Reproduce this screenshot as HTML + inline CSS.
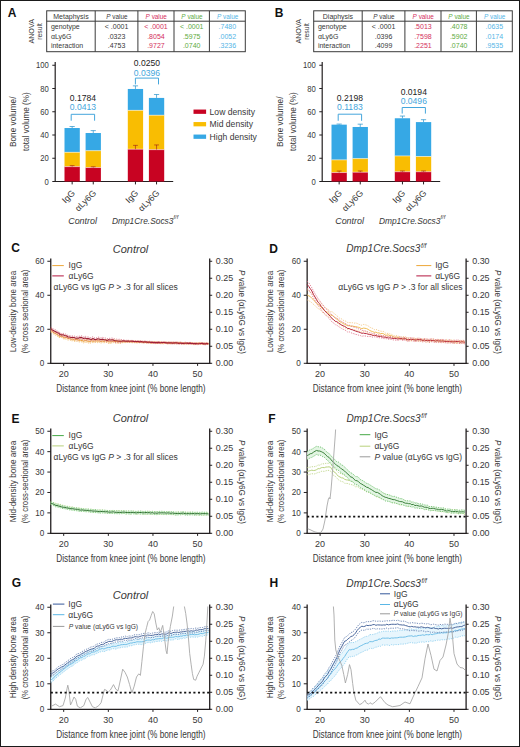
<!DOCTYPE html>
<html><head><meta charset="utf-8"><style>
html,body{margin:0;padding:0;background:#fff;width:520px;height:747px;overflow:hidden}
svg{display:block}
text{font-family:"Liberation Sans", sans-serif}
</style></head><body>
<svg width="520" height="747" viewBox="0 0 520 747">
<rect x="0.5" y="0.5" width="519" height="746" fill="none" stroke="#1a1a1a" stroke-width="1"/>
<text x="7.80" y="16.70" font-size="12" fill="#111" font-weight="bold" >A</text>
<text transform="translate(33.80,31.30) rotate(-90)" x="0" y="0" font-size="7" fill="#383838" text-anchor="middle" textLength="24.60" lengthAdjust="spacingAndGlyphs" >ANOVA</text>
<text transform="translate(41.60,31.40) rotate(-90)" x="0" y="0" font-size="6.5" fill="#383838" text-anchor="middle" textLength="16.80" lengthAdjust="spacingAndGlyphs" >result</text>
<rect x="46.70" y="10.8" width="198.60" height="40.90" fill="none" stroke="#3a3a3a" stroke-width="1"/>
<line x1="46.70" y1="21.20" x2="245.30" y2="21.20" stroke="#3a3a3a" stroke-width="1"/>
<line x1="95.20" y1="10.80" x2="95.20" y2="51.70" stroke="#3a3a3a" stroke-width="1"/>
<line x1="137.90" y1="10.80" x2="137.90" y2="51.70" stroke="#3a3a3a" stroke-width="1"/>
<line x1="174.00" y1="10.80" x2="174.00" y2="51.70" stroke="#3a3a3a" stroke-width="1"/>
<line x1="209.40" y1="10.80" x2="209.40" y2="51.70" stroke="#3a3a3a" stroke-width="1"/>
<text x="70.95" y="18.60" font-size="7" fill="#383838" text-anchor="middle" >Metaphysis</text>
<text x="116.85" y="18.60" font-size="7" fill="#383838" text-anchor="middle" textLength="21.30" lengthAdjust="spacingAndGlyphs" ><tspan font-style="italic">P</tspan> value</text>
<text x="156.25" y="18.60" font-size="7" fill="#d4305c" text-anchor="middle" textLength="21.30" lengthAdjust="spacingAndGlyphs" ><tspan font-style="italic">P</tspan> value</text>
<text x="192.00" y="18.60" font-size="7" fill="#5eab42" text-anchor="middle" textLength="21.30" lengthAdjust="spacingAndGlyphs" ><tspan font-style="italic">P</tspan> value</text>
<text x="227.65" y="18.60" font-size="7" fill="#55b5e6" text-anchor="middle" textLength="21.30" lengthAdjust="spacingAndGlyphs" ><tspan font-style="italic">P</tspan> value</text>
<text x="50.90" y="29.40" font-size="7" fill="#383838"  >genotype</text>
<text x="116.55" y="29.40" font-size="7" fill="#383838" text-anchor="middle" >&lt; .0001</text>
<text x="155.95" y="29.40" font-size="7" fill="#d4305c" text-anchor="middle" >&lt; .0001</text>
<text x="191.70" y="29.40" font-size="7" fill="#5eab42" text-anchor="middle" >&lt; .0001</text>
<text x="227.35" y="29.40" font-size="7" fill="#55b5e6" text-anchor="middle" >.7480</text>
<text x="50.90" y="38.60" font-size="7" fill="#383838"  >αLy6G</text>
<text x="116.55" y="38.60" font-size="7" fill="#383838" text-anchor="middle" >.0323</text>
<text x="155.95" y="38.60" font-size="7" fill="#d4305c" text-anchor="middle" >.8054</text>
<text x="191.70" y="38.60" font-size="7" fill="#5eab42" text-anchor="middle" >.5975</text>
<text x="227.35" y="38.60" font-size="7" fill="#55b5e6" text-anchor="middle" >.0052</text>
<text x="50.90" y="47.80" font-size="7" fill="#383838"  >interaction</text>
<text x="116.55" y="47.80" font-size="7" fill="#383838" text-anchor="middle" >.4753</text>
<text x="155.95" y="47.80" font-size="7" fill="#d4305c" text-anchor="middle" >.9727</text>
<text x="191.70" y="47.80" font-size="7" fill="#5eab42" text-anchor="middle" >.0740</text>
<text x="227.35" y="47.80" font-size="7" fill="#55b5e6" text-anchor="middle" >.3236</text>
<line x1="55.20" y1="62.00" x2="55.20" y2="182.10" stroke="#231f20" stroke-width="1.2"/>
<line x1="54.60" y1="181.50" x2="173.20" y2="181.50" stroke="#231f20" stroke-width="1.2"/>
<line x1="52.30" y1="181.50" x2="55.20" y2="181.50" stroke="#231f20" stroke-width="1"/>
<text x="48.80" y="184.60" font-size="9" fill="#383838" text-anchor="end" textLength="4.27" lengthAdjust="spacingAndGlyphs" >0</text>
<line x1="52.30" y1="158.25" x2="55.20" y2="158.25" stroke="#231f20" stroke-width="1"/>
<text x="48.80" y="161.35" font-size="9" fill="#383838" text-anchor="end" textLength="8.54" lengthAdjust="spacingAndGlyphs" >20</text>
<line x1="52.30" y1="135.00" x2="55.20" y2="135.00" stroke="#231f20" stroke-width="1"/>
<text x="48.80" y="138.10" font-size="9" fill="#383838" text-anchor="end" textLength="8.54" lengthAdjust="spacingAndGlyphs" >40</text>
<line x1="52.30" y1="111.75" x2="55.20" y2="111.75" stroke="#231f20" stroke-width="1"/>
<text x="48.80" y="114.85" font-size="9" fill="#383838" text-anchor="end" textLength="8.54" lengthAdjust="spacingAndGlyphs" >60</text>
<line x1="52.30" y1="88.50" x2="55.20" y2="88.50" stroke="#231f20" stroke-width="1"/>
<text x="48.80" y="91.60" font-size="9" fill="#383838" text-anchor="end" textLength="8.54" lengthAdjust="spacingAndGlyphs" >80</text>
<line x1="52.30" y1="65.25" x2="55.20" y2="65.25" stroke="#231f20" stroke-width="1"/>
<text x="48.80" y="68.35" font-size="9" fill="#383838" text-anchor="end" textLength="12.81" lengthAdjust="spacingAndGlyphs" >100</text>
<text transform="translate(15.90,121.80) rotate(-90)" x="0" y="0" font-size="9" fill="#383838" text-anchor="middle" textLength="50.50" lengthAdjust="spacingAndGlyphs" >Bone volume/</text>
<text transform="translate(29.00,121.60) rotate(-90)" x="0" y="0" font-size="9" fill="#383838" text-anchor="middle" textLength="58.60" lengthAdjust="spacingAndGlyphs" >total volume (%)</text>
<rect x="64.50" y="128.03" width="15.30" height="24.30" fill="#36a8e5"/>
<rect x="64.50" y="152.32" width="15.30" height="14.30" fill="#f9bd02"/>
<rect x="64.50" y="166.62" width="15.30" height="14.88" fill="#c80322"/>
<line x1="64.50" y1="152.32" x2="79.80" y2="152.32" stroke="#fff" stroke-width="0.5"/>
<line x1="64.50" y1="166.62" x2="79.80" y2="166.62" stroke="#fff" stroke-width="0.5"/>
<line x1="72.15" y1="128.03" x2="72.15" y2="126.53" stroke="#2290cc" stroke-width="0.7"/>
<line x1="69.55" y1="126.53" x2="74.75" y2="126.53" stroke="#2290cc" stroke-width="0.7"/>
<line x1="72.15" y1="166.62" x2="72.15" y2="165.62" stroke="#9a1a1a" stroke-width="0.6"/>
<line x1="69.75" y1="165.62" x2="74.55" y2="165.62" stroke="#9a1a1a" stroke-width="0.6"/>
<line x1="72.15" y1="181.50" x2="72.15" y2="184.40" stroke="#231f20" stroke-width="1"/>
<text transform="translate(75.65,193.70) rotate(-45)" x="0" y="0" font-size="8.8" fill="#383838" text-anchor="end" >IgG</text>
<rect x="85.60" y="133.02" width="15.30" height="17.67" fill="#36a8e5"/>
<rect x="85.60" y="150.69" width="15.30" height="16.86" fill="#f9bd02"/>
<rect x="85.60" y="167.55" width="15.30" height="13.95" fill="#c80322"/>
<line x1="85.60" y1="150.69" x2="100.90" y2="150.69" stroke="#fff" stroke-width="0.5"/>
<line x1="85.60" y1="167.55" x2="100.90" y2="167.55" stroke="#fff" stroke-width="0.5"/>
<line x1="93.25" y1="133.02" x2="93.25" y2="130.62" stroke="#2290cc" stroke-width="0.7"/>
<line x1="90.65" y1="130.62" x2="95.85" y2="130.62" stroke="#2290cc" stroke-width="0.7"/>
<line x1="93.25" y1="167.55" x2="93.25" y2="166.75" stroke="#9a1a1a" stroke-width="0.6"/>
<line x1="90.85" y1="166.75" x2="95.65" y2="166.75" stroke="#9a1a1a" stroke-width="0.6"/>
<line x1="93.25" y1="181.50" x2="93.25" y2="184.40" stroke="#231f20" stroke-width="1"/>
<text transform="translate(96.75,193.70) rotate(-45)" x="0" y="0" font-size="8.8" fill="#383838" text-anchor="end" >αLy6G</text>
<rect x="127.80" y="88.97" width="15.30" height="21.39" fill="#36a8e5"/>
<rect x="127.80" y="110.35" width="15.30" height="38.83" fill="#f9bd02"/>
<rect x="127.80" y="149.18" width="15.30" height="32.32" fill="#c80322"/>
<line x1="127.80" y1="110.35" x2="143.10" y2="110.35" stroke="#fff" stroke-width="0.5"/>
<line x1="127.80" y1="149.18" x2="143.10" y2="149.18" stroke="#fff" stroke-width="0.5"/>
<line x1="135.45" y1="88.97" x2="135.45" y2="85.87" stroke="#2290cc" stroke-width="0.7"/>
<line x1="132.85" y1="85.87" x2="138.05" y2="85.87" stroke="#2290cc" stroke-width="0.7"/>
<line x1="135.45" y1="149.18" x2="135.45" y2="145.38" stroke="#9a1a1a" stroke-width="0.6"/>
<line x1="133.05" y1="145.38" x2="137.85" y2="145.38" stroke="#9a1a1a" stroke-width="0.6"/>
<line x1="135.45" y1="181.50" x2="135.45" y2="184.40" stroke="#231f20" stroke-width="1"/>
<text transform="translate(138.95,193.70) rotate(-45)" x="0" y="0" font-size="8.8" fill="#383838" text-anchor="end" >IgG</text>
<rect x="148.90" y="97.92" width="15.30" height="17.32" fill="#36a8e5"/>
<rect x="148.90" y="115.24" width="15.30" height="34.41" fill="#f9bd02"/>
<rect x="148.90" y="149.65" width="15.30" height="31.85" fill="#c80322"/>
<line x1="148.90" y1="115.24" x2="164.20" y2="115.24" stroke="#fff" stroke-width="0.5"/>
<line x1="148.90" y1="149.65" x2="164.20" y2="149.65" stroke="#fff" stroke-width="0.5"/>
<line x1="156.55" y1="97.92" x2="156.55" y2="94.52" stroke="#2290cc" stroke-width="0.7"/>
<line x1="153.95" y1="94.52" x2="159.15" y2="94.52" stroke="#2290cc" stroke-width="0.7"/>
<line x1="156.55" y1="149.65" x2="156.55" y2="144.95" stroke="#9a1a1a" stroke-width="0.6"/>
<line x1="154.15" y1="144.95" x2="158.95" y2="144.95" stroke="#9a1a1a" stroke-width="0.6"/>
<line x1="156.55" y1="181.50" x2="156.55" y2="184.40" stroke="#231f20" stroke-width="1"/>
<text transform="translate(160.05,193.70) rotate(-45)" x="0" y="0" font-size="8.8" fill="#383838" text-anchor="end" >αLy6G</text>
<polyline points="71.20,120.70 71.20,114.30 94.60,114.30 94.60,120.70" fill="none" stroke="#45a6dc" stroke-width="1"/>
<text x="82.90" y="100.90" font-size="8.6" fill="#222" text-anchor="middle" >0.1784</text>
<text x="82.90" y="110.30" font-size="8.6" fill="#45a6dc" text-anchor="middle" >0.0413</text>
<polyline points="135.40,84.40 135.40,78.10 158.50,78.10 158.50,84.40" fill="none" stroke="#45a6dc" stroke-width="1"/>
<text x="146.95" y="66.40" font-size="8.6" fill="#222" text-anchor="middle" >0.0250</text>
<text x="146.95" y="76.30" font-size="8.6" fill="#45a6dc" text-anchor="middle" >0.0396</text>
<text x="82.60" y="223.50" font-size="9" fill="#383838" font-style="italic" text-anchor="middle" textLength="28.80" lengthAdjust="spacingAndGlyphs" >Control</text>
<text x="111.90" y="223.50" font-size="9" fill="#383838" font-style="italic" textLength="61.60" lengthAdjust="spacingAndGlyphs" >Dmp1Cre.Socs3</text>
<text x="173.60" y="219.00" font-size="6" fill="#383838" font-style="italic" textLength="4.60" lengthAdjust="spacingAndGlyphs" >f/f</text>
<text x="274.80" y="16.70" font-size="12" fill="#111" font-weight="bold" >B</text>
<text transform="translate(300.80,31.30) rotate(-90)" x="0" y="0" font-size="7" fill="#383838" text-anchor="middle" textLength="24.60" lengthAdjust="spacingAndGlyphs" >ANOVA</text>
<text transform="translate(308.60,31.40) rotate(-90)" x="0" y="0" font-size="6.5" fill="#383838" text-anchor="middle" textLength="16.80" lengthAdjust="spacingAndGlyphs" >result</text>
<rect x="313.70" y="10.8" width="198.60" height="40.90" fill="none" stroke="#3a3a3a" stroke-width="1"/>
<line x1="313.70" y1="21.20" x2="512.30" y2="21.20" stroke="#3a3a3a" stroke-width="1"/>
<line x1="362.20" y1="10.80" x2="362.20" y2="51.70" stroke="#3a3a3a" stroke-width="1"/>
<line x1="404.90" y1="10.80" x2="404.90" y2="51.70" stroke="#3a3a3a" stroke-width="1"/>
<line x1="441.00" y1="10.80" x2="441.00" y2="51.70" stroke="#3a3a3a" stroke-width="1"/>
<line x1="476.40" y1="10.80" x2="476.40" y2="51.70" stroke="#3a3a3a" stroke-width="1"/>
<text x="337.95" y="18.60" font-size="7" fill="#383838" text-anchor="middle" >Diaphysis</text>
<text x="383.85" y="18.60" font-size="7" fill="#383838" text-anchor="middle" textLength="21.30" lengthAdjust="spacingAndGlyphs" ><tspan font-style="italic">P</tspan> value</text>
<text x="423.25" y="18.60" font-size="7" fill="#d4305c" text-anchor="middle" textLength="21.30" lengthAdjust="spacingAndGlyphs" ><tspan font-style="italic">P</tspan> value</text>
<text x="459.00" y="18.60" font-size="7" fill="#5eab42" text-anchor="middle" textLength="21.30" lengthAdjust="spacingAndGlyphs" ><tspan font-style="italic">P</tspan> value</text>
<text x="494.65" y="18.60" font-size="7" fill="#55b5e6" text-anchor="middle" textLength="21.30" lengthAdjust="spacingAndGlyphs" ><tspan font-style="italic">P</tspan> value</text>
<text x="317.90" y="29.40" font-size="7" fill="#383838"  >genotype</text>
<text x="383.55" y="29.40" font-size="7" fill="#383838" text-anchor="middle" >&lt; .0001</text>
<text x="422.95" y="29.40" font-size="7" fill="#d4305c" text-anchor="middle" >.5013</text>
<text x="458.70" y="29.40" font-size="7" fill="#5eab42" text-anchor="middle" >.4078</text>
<text x="494.35" y="29.40" font-size="7" fill="#55b5e6" text-anchor="middle" >.0635</text>
<text x="317.90" y="38.60" font-size="7" fill="#383838"  >αLy6G</text>
<text x="383.55" y="38.60" font-size="7" fill="#383838" text-anchor="middle" >.0396</text>
<text x="422.95" y="38.60" font-size="7" fill="#d4305c" text-anchor="middle" >.7598</text>
<text x="458.70" y="38.60" font-size="7" fill="#5eab42" text-anchor="middle" >.5902</text>
<text x="494.35" y="38.60" font-size="7" fill="#55b5e6" text-anchor="middle" >.0174</text>
<text x="317.90" y="47.80" font-size="7" fill="#383838"  >interaction</text>
<text x="383.55" y="47.80" font-size="7" fill="#383838" text-anchor="middle" >.4099</text>
<text x="422.95" y="47.80" font-size="7" fill="#d4305c" text-anchor="middle" >.2251</text>
<text x="458.70" y="47.80" font-size="7" fill="#5eab42" text-anchor="middle" >.0740</text>
<text x="494.35" y="47.80" font-size="7" fill="#55b5e6" text-anchor="middle" >.9535</text>
<line x1="322.20" y1="62.00" x2="322.20" y2="182.10" stroke="#231f20" stroke-width="1.2"/>
<line x1="321.60" y1="181.50" x2="440.20" y2="181.50" stroke="#231f20" stroke-width="1.2"/>
<line x1="319.30" y1="181.50" x2="322.20" y2="181.50" stroke="#231f20" stroke-width="1"/>
<text x="315.80" y="184.60" font-size="9" fill="#383838" text-anchor="end" textLength="4.27" lengthAdjust="spacingAndGlyphs" >0</text>
<line x1="319.30" y1="158.25" x2="322.20" y2="158.25" stroke="#231f20" stroke-width="1"/>
<text x="315.80" y="161.35" font-size="9" fill="#383838" text-anchor="end" textLength="8.54" lengthAdjust="spacingAndGlyphs" >20</text>
<line x1="319.30" y1="135.00" x2="322.20" y2="135.00" stroke="#231f20" stroke-width="1"/>
<text x="315.80" y="138.10" font-size="9" fill="#383838" text-anchor="end" textLength="8.54" lengthAdjust="spacingAndGlyphs" >40</text>
<line x1="319.30" y1="111.75" x2="322.20" y2="111.75" stroke="#231f20" stroke-width="1"/>
<text x="315.80" y="114.85" font-size="9" fill="#383838" text-anchor="end" textLength="8.54" lengthAdjust="spacingAndGlyphs" >60</text>
<line x1="319.30" y1="88.50" x2="322.20" y2="88.50" stroke="#231f20" stroke-width="1"/>
<text x="315.80" y="91.60" font-size="9" fill="#383838" text-anchor="end" textLength="8.54" lengthAdjust="spacingAndGlyphs" >80</text>
<line x1="319.30" y1="65.25" x2="322.20" y2="65.25" stroke="#231f20" stroke-width="1"/>
<text x="315.80" y="68.35" font-size="9" fill="#383838" text-anchor="end" textLength="12.81" lengthAdjust="spacingAndGlyphs" >100</text>
<text transform="translate(282.90,121.80) rotate(-90)" x="0" y="0" font-size="9" fill="#383838" text-anchor="middle" textLength="50.50" lengthAdjust="spacingAndGlyphs" >Bone volume/</text>
<text transform="translate(296.00,121.60) rotate(-90)" x="0" y="0" font-size="9" fill="#383838" text-anchor="middle" textLength="58.60" lengthAdjust="spacingAndGlyphs" >total volume (%)</text>
<rect x="331.50" y="124.65" width="15.30" height="35.22" fill="#36a8e5"/>
<rect x="331.50" y="159.88" width="15.30" height="12.67" fill="#f9bd02"/>
<rect x="331.50" y="172.55" width="15.30" height="8.95" fill="#c80322"/>
<line x1="331.50" y1="159.88" x2="346.80" y2="159.88" stroke="#fff" stroke-width="0.5"/>
<line x1="331.50" y1="172.55" x2="346.80" y2="172.55" stroke="#fff" stroke-width="0.5"/>
<line x1="339.15" y1="124.65" x2="339.15" y2="124.05" stroke="#2290cc" stroke-width="0.7"/>
<line x1="336.55" y1="124.05" x2="341.75" y2="124.05" stroke="#2290cc" stroke-width="0.7"/>
<line x1="339.15" y1="172.55" x2="339.15" y2="171.05" stroke="#9a1a1a" stroke-width="0.6"/>
<line x1="336.75" y1="171.05" x2="341.55" y2="171.05" stroke="#9a1a1a" stroke-width="0.6"/>
<line x1="339.15" y1="181.50" x2="339.15" y2="184.40" stroke="#231f20" stroke-width="1"/>
<text transform="translate(342.65,193.70) rotate(-45)" x="0" y="0" font-size="8.8" fill="#383838" text-anchor="end" >IgG</text>
<rect x="352.60" y="126.98" width="15.30" height="31.62" fill="#36a8e5"/>
<rect x="352.60" y="158.60" width="15.30" height="13.60" fill="#f9bd02"/>
<rect x="352.60" y="172.20" width="15.30" height="9.30" fill="#c80322"/>
<line x1="352.60" y1="158.60" x2="367.90" y2="158.60" stroke="#fff" stroke-width="0.5"/>
<line x1="352.60" y1="172.20" x2="367.90" y2="172.20" stroke="#fff" stroke-width="0.5"/>
<line x1="360.25" y1="126.98" x2="360.25" y2="124.18" stroke="#2290cc" stroke-width="0.7"/>
<line x1="357.65" y1="124.18" x2="362.85" y2="124.18" stroke="#2290cc" stroke-width="0.7"/>
<line x1="360.25" y1="172.20" x2="360.25" y2="171.00" stroke="#9a1a1a" stroke-width="0.6"/>
<line x1="357.85" y1="171.00" x2="362.65" y2="171.00" stroke="#9a1a1a" stroke-width="0.6"/>
<line x1="360.25" y1="181.50" x2="360.25" y2="184.40" stroke="#231f20" stroke-width="1"/>
<text transform="translate(363.75,193.70) rotate(-45)" x="0" y="0" font-size="8.8" fill="#383838" text-anchor="end" >αLy6G</text>
<rect x="394.80" y="118.26" width="15.30" height="37.67" fill="#36a8e5"/>
<rect x="394.80" y="155.93" width="15.30" height="15.81" fill="#f9bd02"/>
<rect x="394.80" y="171.74" width="15.30" height="9.76" fill="#c80322"/>
<line x1="394.80" y1="155.93" x2="410.10" y2="155.93" stroke="#fff" stroke-width="0.5"/>
<line x1="394.80" y1="171.74" x2="410.10" y2="171.74" stroke="#fff" stroke-width="0.5"/>
<line x1="402.45" y1="118.26" x2="402.45" y2="116.06" stroke="#2290cc" stroke-width="0.7"/>
<line x1="399.85" y1="116.06" x2="405.05" y2="116.06" stroke="#2290cc" stroke-width="0.7"/>
<line x1="402.45" y1="171.74" x2="402.45" y2="170.94" stroke="#9a1a1a" stroke-width="0.6"/>
<line x1="400.05" y1="170.94" x2="404.85" y2="170.94" stroke="#9a1a1a" stroke-width="0.6"/>
<line x1="402.45" y1="181.50" x2="402.45" y2="184.40" stroke="#231f20" stroke-width="1"/>
<text transform="translate(405.95,193.70) rotate(-45)" x="0" y="0" font-size="8.8" fill="#383838" text-anchor="end" >IgG</text>
<rect x="415.90" y="122.10" width="15.30" height="34.41" fill="#36a8e5"/>
<rect x="415.90" y="156.51" width="15.30" height="15.23" fill="#f9bd02"/>
<rect x="415.90" y="171.74" width="15.30" height="9.76" fill="#c80322"/>
<line x1="415.90" y1="156.51" x2="431.20" y2="156.51" stroke="#fff" stroke-width="0.5"/>
<line x1="415.90" y1="171.74" x2="431.20" y2="171.74" stroke="#fff" stroke-width="0.5"/>
<line x1="423.55" y1="122.10" x2="423.55" y2="119.70" stroke="#2290cc" stroke-width="0.7"/>
<line x1="420.95" y1="119.70" x2="426.15" y2="119.70" stroke="#2290cc" stroke-width="0.7"/>
<line x1="423.55" y1="171.74" x2="423.55" y2="170.94" stroke="#9a1a1a" stroke-width="0.6"/>
<line x1="421.15" y1="170.94" x2="425.95" y2="170.94" stroke="#9a1a1a" stroke-width="0.6"/>
<line x1="423.55" y1="181.50" x2="423.55" y2="184.40" stroke="#231f20" stroke-width="1"/>
<text transform="translate(427.05,193.70) rotate(-45)" x="0" y="0" font-size="8.8" fill="#383838" text-anchor="end" >αLy6G</text>
<polyline points="338.20,120.80 338.20,114.20 361.60,114.20 361.60,120.80" fill="none" stroke="#45a6dc" stroke-width="1"/>
<text x="349.90" y="100.90" font-size="8.6" fill="#222" text-anchor="middle" >0.2198</text>
<text x="349.90" y="110.40" font-size="8.6" fill="#45a6dc" text-anchor="middle" >0.1183</text>
<polyline points="402.20,113.60 402.20,107.50 425.40,107.50 425.40,113.60" fill="none" stroke="#45a6dc" stroke-width="1"/>
<text x="413.80" y="95.40" font-size="8.6" fill="#222" text-anchor="middle" >0.0194</text>
<text x="413.80" y="104.40" font-size="8.6" fill="#45a6dc" text-anchor="middle" >0.0496</text>
<text x="349.60" y="223.50" font-size="9" fill="#383838" font-style="italic" text-anchor="middle" textLength="28.80" lengthAdjust="spacingAndGlyphs" >Control</text>
<text x="378.90" y="223.50" font-size="9" fill="#383838" font-style="italic" textLength="61.60" lengthAdjust="spacingAndGlyphs" >Dmp1Cre.Socs3</text>
<text x="440.60" y="219.00" font-size="6" fill="#383838" font-style="italic" textLength="4.60" lengthAdjust="spacingAndGlyphs" >f/f</text>
<rect x="193.50" y="109.55" width="12.60" height="4.30" fill="#c80322"/>
<text x="209.60" y="114.65" font-size="8.6" fill="#383838"  >Low density</text>
<rect x="193.50" y="122.05" width="12.60" height="4.30" fill="#f9bd02"/>
<text x="209.60" y="127.15" font-size="8.6" fill="#383838"  >Mid density</text>
<rect x="193.50" y="134.55" width="12.60" height="4.30" fill="#36a8e5"/>
<text x="209.60" y="139.65" font-size="8.6" fill="#383838"  >High density</text>
<text x="11.30" y="252.40" font-size="12" fill="#111" font-weight="bold" >C</text>
<line x1="50.75" y1="258.45" x2="50.75" y2="363.90" stroke="#231f20" stroke-width="1.3"/>
<line x1="209.70" y1="258.45" x2="209.70" y2="363.90" stroke="#231f20" stroke-width="1.3"/>
<line x1="50.15" y1="363.30" x2="210.30" y2="363.30" stroke="#231f20" stroke-width="1.3"/>
<line x1="47.35" y1="363.30" x2="50.75" y2="363.30" stroke="#231f20" stroke-width="1"/>
<text x="44.35" y="366.20" font-size="8.2" fill="#383838" text-anchor="end" >0</text>
<line x1="47.35" y1="329.28" x2="50.75" y2="329.28" stroke="#231f20" stroke-width="1"/>
<text x="44.35" y="332.18" font-size="8.2" fill="#383838" text-anchor="end" >20</text>
<line x1="47.35" y1="295.27" x2="50.75" y2="295.27" stroke="#231f20" stroke-width="1"/>
<text x="44.35" y="298.17" font-size="8.2" fill="#383838" text-anchor="end" >40</text>
<line x1="47.35" y1="261.25" x2="50.75" y2="261.25" stroke="#231f20" stroke-width="1"/>
<text x="44.35" y="264.15" font-size="8.2" fill="#383838" text-anchor="end" >60</text>
<line x1="209.70" y1="363.30" x2="212.20" y2="363.30" stroke="#231f20" stroke-width="1"/>
<text x="215.80" y="366.30" font-size="8.6" fill="#383838" textLength="17.40" lengthAdjust="spacingAndGlyphs" >0.00</text>
<line x1="209.70" y1="346.29" x2="212.20" y2="346.29" stroke="#231f20" stroke-width="1"/>
<text x="215.80" y="349.29" font-size="8.6" fill="#383838" textLength="17.40" lengthAdjust="spacingAndGlyphs" >0.05</text>
<line x1="209.70" y1="329.28" x2="212.20" y2="329.28" stroke="#231f20" stroke-width="1"/>
<text x="215.80" y="332.28" font-size="8.6" fill="#383838" textLength="17.40" lengthAdjust="spacingAndGlyphs" >0.10</text>
<line x1="209.70" y1="312.27" x2="212.20" y2="312.27" stroke="#231f20" stroke-width="1"/>
<text x="215.80" y="315.27" font-size="8.6" fill="#383838" textLength="17.40" lengthAdjust="spacingAndGlyphs" >0.15</text>
<line x1="209.70" y1="295.27" x2="212.20" y2="295.27" stroke="#231f20" stroke-width="1"/>
<text x="215.80" y="298.27" font-size="8.6" fill="#383838" textLength="17.40" lengthAdjust="spacingAndGlyphs" >0.20</text>
<line x1="209.70" y1="278.26" x2="212.20" y2="278.26" stroke="#231f20" stroke-width="1"/>
<text x="215.80" y="281.26" font-size="8.6" fill="#383838" textLength="17.40" lengthAdjust="spacingAndGlyphs" >0.25</text>
<line x1="209.70" y1="261.25" x2="212.20" y2="261.25" stroke="#231f20" stroke-width="1"/>
<text x="215.80" y="264.25" font-size="8.6" fill="#383838" textLength="17.40" lengthAdjust="spacingAndGlyphs" >0.30</text>
<line x1="63.70" y1="363.30" x2="63.70" y2="365.90" stroke="#231f20" stroke-width="1"/>
<text x="63.70" y="377.00" font-size="9" fill="#383838" text-anchor="middle" >20</text>
<line x1="108.33" y1="363.30" x2="108.33" y2="365.90" stroke="#231f20" stroke-width="1"/>
<text x="108.33" y="377.00" font-size="9" fill="#383838" text-anchor="middle" >30</text>
<line x1="152.96" y1="363.30" x2="152.96" y2="365.90" stroke="#231f20" stroke-width="1"/>
<text x="152.96" y="377.00" font-size="9" fill="#383838" text-anchor="middle" >40</text>
<line x1="197.59" y1="363.30" x2="197.59" y2="365.90" stroke="#231f20" stroke-width="1"/>
<text x="197.59" y="377.00" font-size="9" fill="#383838" text-anchor="middle" >50</text>
<text x="56.30" y="392.10" font-size="10.2" fill="#383838" textLength="149.30" lengthAdjust="spacingAndGlyphs" >Distance from knee joint (% bone length)</text>
<text transform="translate(16.40,311.47) rotate(-90)" x="0" y="0" font-size="9" fill="#383838" text-anchor="middle" textLength="81.50" lengthAdjust="spacingAndGlyphs" >Low-density bone area</text>
<text transform="translate(27.60,311.47) rotate(-90)" x="0" y="0" font-size="9" fill="#383838" text-anchor="middle" textLength="83.60" lengthAdjust="spacingAndGlyphs" >(% cross sectional area)</text>
<text transform="translate(238.90,312.07) rotate(90)" x="0" y="0" font-size="8.6" fill="#383838" text-anchor="middle" textLength="84.00" lengthAdjust="spacingAndGlyphs" ><tspan font-style="italic">P</tspan> value (αLy6G vs IgG)</text>
<text x="130.50" y="252.60" font-size="11" fill="#383838" font-style="italic" text-anchor="middle" textLength="35.40" lengthAdjust="spacingAndGlyphs" >Control</text>
<polygon points="50.76,328.63 52.32,330.00 53.88,331.15 55.44,331.81 57.01,333.05 58.57,334.44 60.13,334.83 61.69,334.78 63.25,335.87 64.82,336.09 66.38,335.68 67.94,337.17 69.50,337.10 71.06,337.78 72.63,337.52 74.19,338.80 75.75,338.32 77.31,338.34 78.87,338.96 80.44,338.69 82.00,339.16 83.56,339.83 85.12,338.89 86.68,339.17 88.25,339.78 89.81,339.97 91.37,339.18 92.93,339.54 94.49,339.63 96.06,339.40 97.62,339.51 99.18,339.06 100.74,339.88 102.30,339.49 103.87,340.04 105.43,339.44 106.99,339.55 108.55,340.02 110.12,340.07 111.68,340.01 113.24,339.37 114.80,339.93 116.36,339.98 117.93,340.30 119.49,340.29 121.05,340.30 122.61,340.97 124.17,340.93 125.74,340.77 127.30,340.85 128.86,340.82 130.42,340.76 131.98,340.99 133.55,340.88 135.11,340.96 136.67,341.25 138.23,341.06 139.79,341.01 141.36,341.10 142.92,341.41 144.48,341.33 146.04,341.60 147.60,341.40 149.17,341.47 150.73,341.75 152.29,341.83 153.85,341.65 155.41,341.54 156.98,342.10 158.54,341.65 160.10,341.82 161.66,342.05 163.22,342.02 164.79,341.81 166.35,341.89 167.91,342.29 169.47,342.00 171.04,342.29 172.60,342.07 174.16,342.27 175.72,342.08 177.28,342.01 178.85,342.25 180.41,342.13 181.97,342.41 183.53,342.52 185.09,342.38 186.66,342.58 188.22,342.70 189.78,342.49 191.34,342.60 192.90,342.81 194.47,342.79 196.03,342.62 197.59,342.78 199.15,342.44 200.71,342.47 202.28,342.80 203.84,342.87 205.40,342.86 206.96,342.76 208.52,342.94 208.52,344.56 206.96,344.43 205.40,344.54 203.84,344.50 202.28,344.45 200.71,344.37 199.15,344.18 197.59,344.42 196.03,344.20 194.47,344.63 192.90,344.58 191.34,344.22 189.78,344.18 188.22,344.23 186.66,344.28 185.09,344.17 183.53,344.36 181.97,344.14 180.41,343.75 178.85,343.98 177.28,343.79 175.72,343.82 174.16,343.97 172.60,343.66 171.04,343.96 169.47,343.65 167.91,344.08 166.35,343.53 164.79,343.46 163.22,343.85 161.66,343.78 160.10,343.51 158.54,343.41 156.98,343.61 155.41,343.25 153.85,343.23 152.29,343.54 150.73,343.38 149.17,343.13 147.60,342.98 146.04,343.21 144.48,342.93 142.92,342.95 141.36,342.78 139.79,342.78 138.23,342.75 136.67,343.01 135.11,342.79 133.55,342.65 131.98,342.70 130.42,342.51 128.86,342.53 127.30,342.50 125.74,342.62 124.17,342.60 122.61,342.71 121.05,343.14 119.49,343.39 117.93,343.18 116.36,343.19 114.80,342.97 113.24,342.61 111.68,343.04 110.12,343.47 108.55,343.47 106.99,342.48 105.43,342.50 103.87,342.76 102.30,342.45 100.74,343.27 99.18,342.17 97.62,342.64 96.06,342.33 94.49,342.61 92.93,342.59 91.37,342.57 89.81,343.39 88.25,342.94 86.68,342.31 85.12,342.34 83.56,342.95 82.00,341.88 80.44,341.94 78.87,341.87 77.31,341.31 75.75,341.31 74.19,341.28 72.63,340.74 71.06,340.90 69.50,339.67 67.94,340.25 66.38,339.05 64.82,339.22 63.25,338.73 61.69,337.55 60.13,337.76 58.57,337.19 57.01,335.77 55.44,335.18 53.88,334.28 52.32,332.83 50.76,332.22" fill="#fdf0dc" stroke="none"/>
<polyline points="50.76,328.63 52.32,330.00 53.88,331.15 55.44,331.81 57.01,333.05 58.57,334.44 60.13,334.83 61.69,334.78 63.25,335.87 64.82,336.09 66.38,335.68 67.94,337.17 69.50,337.10 71.06,337.78 72.63,337.52 74.19,338.80 75.75,338.32 77.31,338.34 78.87,338.96 80.44,338.69 82.00,339.16 83.56,339.83 85.12,338.89 86.68,339.17 88.25,339.78 89.81,339.97 91.37,339.18 92.93,339.54 94.49,339.63 96.06,339.40 97.62,339.51 99.18,339.06 100.74,339.88 102.30,339.49 103.87,340.04 105.43,339.44 106.99,339.55 108.55,340.02 110.12,340.07 111.68,340.01 113.24,339.37 114.80,339.93 116.36,339.98 117.93,340.30 119.49,340.29 121.05,340.30 122.61,340.97 124.17,340.93 125.74,340.77 127.30,340.85 128.86,340.82 130.42,340.76 131.98,340.99 133.55,340.88 135.11,340.96 136.67,341.25 138.23,341.06 139.79,341.01 141.36,341.10 142.92,341.41 144.48,341.33 146.04,341.60 147.60,341.40 149.17,341.47 150.73,341.75 152.29,341.83 153.85,341.65 155.41,341.54 156.98,342.10 158.54,341.65 160.10,341.82 161.66,342.05 163.22,342.02 164.79,341.81 166.35,341.89 167.91,342.29 169.47,342.00 171.04,342.29 172.60,342.07 174.16,342.27 175.72,342.08 177.28,342.01 178.85,342.25 180.41,342.13 181.97,342.41 183.53,342.52 185.09,342.38 186.66,342.58 188.22,342.70 189.78,342.49 191.34,342.60 192.90,342.81 194.47,342.79 196.03,342.62 197.59,342.78 199.15,342.44 200.71,342.47 202.28,342.80 203.84,342.87 205.40,342.86 206.96,342.76 208.52,342.94" fill="none" stroke="#f2b968" stroke-width="0.8" stroke-linejoin="round" stroke-dasharray="1.3 1.1"/>
<polyline points="50.76,332.22 52.32,332.83 53.88,334.28 55.44,335.18 57.01,335.77 58.57,337.19 60.13,337.76 61.69,337.55 63.25,338.73 64.82,339.22 66.38,339.05 67.94,340.25 69.50,339.67 71.06,340.90 72.63,340.74 74.19,341.28 75.75,341.31 77.31,341.31 78.87,341.87 80.44,341.94 82.00,341.88 83.56,342.95 85.12,342.34 86.68,342.31 88.25,342.94 89.81,343.39 91.37,342.57 92.93,342.59 94.49,342.61 96.06,342.33 97.62,342.64 99.18,342.17 100.74,343.27 102.30,342.45 103.87,342.76 105.43,342.50 106.99,342.48 108.55,343.47 110.12,343.47 111.68,343.04 113.24,342.61 114.80,342.97 116.36,343.19 117.93,343.18 119.49,343.39 121.05,343.14 122.61,342.71 124.17,342.60 125.74,342.62 127.30,342.50 128.86,342.53 130.42,342.51 131.98,342.70 133.55,342.65 135.11,342.79 136.67,343.01 138.23,342.75 139.79,342.78 141.36,342.78 142.92,342.95 144.48,342.93 146.04,343.21 147.60,342.98 149.17,343.13 150.73,343.38 152.29,343.54 153.85,343.23 155.41,343.25 156.98,343.61 158.54,343.41 160.10,343.51 161.66,343.78 163.22,343.85 164.79,343.46 166.35,343.53 167.91,344.08 169.47,343.65 171.04,343.96 172.60,343.66 174.16,343.97 175.72,343.82 177.28,343.79 178.85,343.98 180.41,343.75 181.97,344.14 183.53,344.36 185.09,344.17 186.66,344.28 188.22,344.23 189.78,344.18 191.34,344.22 192.90,344.58 194.47,344.63 196.03,344.20 197.59,344.42 199.15,344.18 200.71,344.37 202.28,344.45 203.84,344.50 205.40,344.54 206.96,344.43 208.52,344.56" fill="none" stroke="#f2b968" stroke-width="0.8" stroke-linejoin="round" stroke-dasharray="1.3 1.1"/>
<polyline points="50.76,330.45 52.32,331.50 53.88,332.81 55.44,333.48 57.01,334.41 58.57,335.72 60.13,336.43 61.69,336.09 63.25,337.33 64.82,337.85 66.38,337.43 67.94,338.48 69.50,338.38 71.06,339.14 72.63,339.24 74.19,340.05 75.75,339.69 77.31,339.64 78.87,340.27 80.44,340.23 82.00,340.50 83.56,341.30 85.12,340.56 86.68,340.84 88.25,341.26 89.81,341.67 91.37,340.75 92.93,341.26 94.49,341.01 96.06,340.86 97.62,341.09 99.18,340.86 100.74,341.48 102.30,341.00 103.87,341.43 105.43,340.84 106.99,340.91 108.55,341.84 110.12,341.83 111.68,341.77 113.24,340.92 114.80,341.58 116.36,341.39 117.93,341.82 119.49,341.61 121.05,341.79 122.61,341.76 124.17,341.68 125.74,341.72 127.30,341.60 128.86,341.74 130.42,341.66 131.98,341.74 133.55,341.72 135.11,341.92 136.67,342.21 138.23,341.93 139.79,341.93 141.36,342.00 142.92,342.21 144.48,342.19 146.04,342.48 147.60,342.23 149.17,342.40 150.73,342.58 152.29,342.74 153.85,342.40 155.41,342.37 156.98,342.84 158.54,342.53 160.10,342.76 161.66,342.92 163.22,342.88 164.79,342.69 166.35,342.68 167.91,343.11 169.47,342.87 171.04,343.18 172.60,342.89 174.16,343.12 175.72,342.89 177.28,342.88 178.85,343.14 180.41,342.94 181.97,343.30 183.53,343.45 185.09,343.24 186.66,343.54 188.22,343.50 189.78,343.44 191.34,343.37 192.90,343.63 194.47,343.72 196.03,343.36 197.59,343.66 199.15,343.37 200.71,343.43 202.28,343.70 203.84,343.68 205.40,343.68 206.96,343.64 208.52,343.69" fill="none" stroke="#e89a30" stroke-width="1.0" stroke-linejoin="round"/>
<polyline points="50.76,326.87 52.32,328.47 53.88,329.15 55.44,329.71 57.01,331.15 58.57,331.31 60.13,333.27 61.69,333.50 63.25,333.35 64.82,333.89 66.38,334.38 67.94,335.41 69.50,335.50 71.06,336.21 72.63,335.94 74.19,336.01 75.75,336.72 77.31,336.31 78.87,336.30 80.44,336.03 82.00,335.86 83.56,336.94 85.12,336.11 86.68,337.11 88.25,336.85 89.81,337.73 91.37,337.61 92.93,336.66 94.49,337.79 96.06,338.20 97.62,336.99 99.18,337.28 100.74,338.03 102.30,337.31 103.87,337.94 105.43,338.05 106.99,338.94 108.55,338.10 110.12,338.49 111.68,338.08 113.24,338.32 114.80,338.98 116.36,339.16 117.93,339.42 119.49,339.29 121.05,339.56 122.61,339.96 124.17,339.95 125.74,340.44 127.30,340.12 128.86,340.38 130.42,340.48 131.98,340.35 133.55,340.60 135.11,340.67 136.67,340.60 138.23,340.56 139.79,340.93 141.36,340.66 142.92,341.34 144.48,341.03 146.04,341.10 147.60,341.39 149.17,341.23 150.73,341.42 152.29,341.47 153.85,341.77 155.41,341.74 156.98,341.77 158.54,341.58 160.10,341.86 161.66,341.71 163.22,341.52 164.79,341.73 166.35,342.07 167.91,341.95 169.47,342.04 171.04,342.05 172.60,342.24 174.16,341.96 175.72,342.08 177.28,342.16 178.85,342.42 180.41,342.15 181.97,342.62 183.53,342.58 185.09,342.29 186.66,342.33 188.22,342.67 189.78,342.37 191.34,342.51 192.90,342.58 194.47,342.80 196.03,342.81 197.59,342.98 199.15,342.82 200.71,342.68 202.28,342.51 203.84,342.89 205.40,343.04 206.96,342.63 208.52,342.98" fill="none" stroke="#d8687c" stroke-width="0.8" stroke-linejoin="round" stroke-dasharray="1.3 1.1"/>
<polyline points="50.76,330.20 52.32,331.31 53.88,332.37 55.44,333.04 57.01,333.90 58.57,334.69 60.13,335.95 61.69,336.35 63.25,336.56 64.82,336.96 66.38,337.39 67.94,338.28 69.50,338.37 71.06,339.25 72.63,338.68 74.19,339.11 75.75,339.49 77.31,339.89 78.87,339.73 80.44,338.86 82.00,339.34 83.56,340.17 85.12,339.68 86.68,340.30 88.25,339.72 89.81,340.76 91.37,340.83 92.93,340.00 94.49,340.80 96.06,340.74 97.62,340.22 99.18,340.58 100.74,341.33 102.30,340.52 103.87,340.99 105.43,340.96 106.99,342.06 108.55,341.43 110.12,341.29 111.68,341.47 113.24,341.35 114.80,342.45 116.36,342.23 117.93,342.40 119.49,342.36 121.05,342.88 122.61,341.78 124.17,341.62 125.74,342.05 127.30,341.90 128.86,342.07 130.42,342.18 131.98,341.90 133.55,342.17 135.11,342.46 136.67,342.37 138.23,342.28 139.79,342.66 141.36,342.33 142.92,342.90 144.48,342.66 146.04,342.59 147.60,343.18 149.17,342.95 150.73,343.22 152.29,343.19 153.85,343.51 155.41,343.57 156.98,343.53 158.54,343.10 160.10,343.68 161.66,343.46 163.22,343.40 164.79,343.46 166.35,343.60 167.91,343.68 169.47,343.64 171.04,343.77 172.60,343.97 174.16,343.70 175.72,343.85 177.28,343.84 178.85,344.21 180.41,343.84 181.97,344.28 183.53,344.17 185.09,344.01 186.66,343.91 188.22,344.19 189.78,343.97 191.34,344.33 192.90,344.37 194.47,344.50 196.03,344.53 197.59,344.65 199.15,344.51 200.71,344.39 202.28,344.26 203.84,344.72 205.40,344.75 206.96,344.30 208.52,344.66" fill="none" stroke="#d8687c" stroke-width="0.8" stroke-linejoin="round" stroke-dasharray="1.3 1.1"/>
<polyline points="50.76,328.63 52.32,329.91 53.88,330.86 55.44,331.51 57.01,332.57 58.57,333.00 60.13,334.71 61.69,334.83 63.25,334.79 64.82,335.57 66.38,335.70 67.94,337.03 69.50,336.95 71.06,337.55 72.63,337.43 74.19,337.48 75.75,338.23 77.31,338.07 78.87,338.08 80.44,337.40 82.00,337.68 83.56,338.54 85.12,337.91 86.68,338.83 88.25,338.40 89.81,339.12 91.37,339.40 92.93,338.48 94.49,339.39 96.06,339.50 97.62,338.71 99.18,338.97 100.74,339.79 102.30,339.12 103.87,339.75 105.43,339.72 106.99,340.41 108.55,339.65 110.12,340.02 111.68,339.77 113.24,339.92 114.80,340.70 116.36,340.70 117.93,341.01 119.49,341.10 121.05,341.27 122.61,340.92 124.17,340.84 125.74,341.20 127.30,340.95 128.86,341.18 130.42,341.27 131.98,341.11 133.55,341.35 135.11,341.52 136.67,341.52 138.23,341.50 139.79,341.89 141.36,341.53 142.92,342.07 144.48,341.81 146.04,341.85 147.60,342.32 149.17,342.04 150.73,342.32 152.29,342.31 153.85,342.64 155.41,342.67 156.98,342.65 158.54,342.33 160.10,342.74 161.66,342.52 163.22,342.49 164.79,342.53 166.35,342.86 167.91,342.90 169.47,342.87 171.04,342.80 172.60,343.17 174.16,342.91 175.72,342.93 177.28,342.93 178.85,343.36 180.41,342.97 181.97,343.41 183.53,343.32 185.09,343.23 186.66,343.12 188.22,343.43 189.78,343.19 191.34,343.41 192.90,343.55 194.47,343.59 196.03,343.69 197.59,343.77 199.15,343.76 200.71,343.53 202.28,343.40 203.84,343.82 205.40,343.90 206.96,343.48 208.52,343.71" fill="none" stroke="#a01f35" stroke-width="1.15" stroke-linejoin="round"/>
<line x1="52.30" y1="265.60" x2="63.80" y2="265.60" stroke="#eda637" stroke-width="1.0"/>
<line x1="52.30" y1="275.90" x2="63.80" y2="275.90" stroke="#b3163f" stroke-width="1.0"/>
<text x="68.60" y="268.40" font-size="8.5" fill="#383838"  >IgG</text>
<text x="68.60" y="278.70" font-size="8.5" fill="#383838"  >αLy6G</text>
<text x="53.60" y="289.80" font-size="8.5" fill="#383838" textLength="124.30" lengthAdjust="spacingAndGlyphs" >αLy6G vs IgG <tspan font-style="italic">P</tspan> &gt; .3 for all slices</text>
<text x="269.30" y="252.60" font-size="12" fill="#111" font-weight="bold" >D</text>
<line x1="307.15" y1="258.45" x2="307.15" y2="363.90" stroke="#231f20" stroke-width="1.3"/>
<line x1="466.10" y1="258.45" x2="466.10" y2="363.90" stroke="#231f20" stroke-width="1.3"/>
<line x1="306.55" y1="363.30" x2="466.70" y2="363.30" stroke="#231f20" stroke-width="1.3"/>
<line x1="303.75" y1="363.30" x2="307.15" y2="363.30" stroke="#231f20" stroke-width="1"/>
<text x="300.75" y="366.20" font-size="8.2" fill="#383838" text-anchor="end" >0</text>
<line x1="303.75" y1="329.28" x2="307.15" y2="329.28" stroke="#231f20" stroke-width="1"/>
<text x="300.75" y="332.18" font-size="8.2" fill="#383838" text-anchor="end" >20</text>
<line x1="303.75" y1="295.27" x2="307.15" y2="295.27" stroke="#231f20" stroke-width="1"/>
<text x="300.75" y="298.17" font-size="8.2" fill="#383838" text-anchor="end" >40</text>
<line x1="303.75" y1="261.25" x2="307.15" y2="261.25" stroke="#231f20" stroke-width="1"/>
<text x="300.75" y="264.15" font-size="8.2" fill="#383838" text-anchor="end" >60</text>
<line x1="466.10" y1="363.30" x2="468.60" y2="363.30" stroke="#231f20" stroke-width="1"/>
<text x="472.20" y="366.30" font-size="8.6" fill="#383838" textLength="17.40" lengthAdjust="spacingAndGlyphs" >0.00</text>
<line x1="466.10" y1="346.29" x2="468.60" y2="346.29" stroke="#231f20" stroke-width="1"/>
<text x="472.20" y="349.29" font-size="8.6" fill="#383838" textLength="17.40" lengthAdjust="spacingAndGlyphs" >0.05</text>
<line x1="466.10" y1="329.28" x2="468.60" y2="329.28" stroke="#231f20" stroke-width="1"/>
<text x="472.20" y="332.28" font-size="8.6" fill="#383838" textLength="17.40" lengthAdjust="spacingAndGlyphs" >0.10</text>
<line x1="466.10" y1="312.27" x2="468.60" y2="312.27" stroke="#231f20" stroke-width="1"/>
<text x="472.20" y="315.27" font-size="8.6" fill="#383838" textLength="17.40" lengthAdjust="spacingAndGlyphs" >0.15</text>
<line x1="466.10" y1="295.27" x2="468.60" y2="295.27" stroke="#231f20" stroke-width="1"/>
<text x="472.20" y="298.27" font-size="8.6" fill="#383838" textLength="17.40" lengthAdjust="spacingAndGlyphs" >0.20</text>
<line x1="466.10" y1="278.26" x2="468.60" y2="278.26" stroke="#231f20" stroke-width="1"/>
<text x="472.20" y="281.26" font-size="8.6" fill="#383838" textLength="17.40" lengthAdjust="spacingAndGlyphs" >0.25</text>
<line x1="466.10" y1="261.25" x2="468.60" y2="261.25" stroke="#231f20" stroke-width="1"/>
<text x="472.20" y="264.25" font-size="8.6" fill="#383838" textLength="17.40" lengthAdjust="spacingAndGlyphs" >0.30</text>
<line x1="320.10" y1="363.30" x2="320.10" y2="365.90" stroke="#231f20" stroke-width="1"/>
<text x="320.10" y="377.00" font-size="9" fill="#383838" text-anchor="middle" >20</text>
<line x1="364.73" y1="363.30" x2="364.73" y2="365.90" stroke="#231f20" stroke-width="1"/>
<text x="364.73" y="377.00" font-size="9" fill="#383838" text-anchor="middle" >30</text>
<line x1="409.36" y1="363.30" x2="409.36" y2="365.90" stroke="#231f20" stroke-width="1"/>
<text x="409.36" y="377.00" font-size="9" fill="#383838" text-anchor="middle" >40</text>
<line x1="453.99" y1="363.30" x2="453.99" y2="365.90" stroke="#231f20" stroke-width="1"/>
<text x="453.99" y="377.00" font-size="9" fill="#383838" text-anchor="middle" >50</text>
<text x="312.70" y="392.10" font-size="10.2" fill="#383838" textLength="149.30" lengthAdjust="spacingAndGlyphs" >Distance from knee joint (% bone length)</text>
<text transform="translate(272.80,311.47) rotate(-90)" x="0" y="0" font-size="9" fill="#383838" text-anchor="middle" textLength="81.50" lengthAdjust="spacingAndGlyphs" >Low-density bone area</text>
<text transform="translate(284.00,311.47) rotate(-90)" x="0" y="0" font-size="9" fill="#383838" text-anchor="middle" textLength="83.60" lengthAdjust="spacingAndGlyphs" >(% cross sectional area)</text>
<text transform="translate(495.30,312.07) rotate(90)" x="0" y="0" font-size="8.6" fill="#383838" text-anchor="middle" textLength="84.00" lengthAdjust="spacingAndGlyphs" ><tspan font-style="italic">P</tspan> value (αLy6G vs IgG)</text>
<text x="346.30" y="252.40" font-size="11" fill="#383838" font-style="italic" textLength="74.10" lengthAdjust="spacingAndGlyphs" >Dmp1Cre.Socs3</text>
<text x="421.00" y="247.90" font-size="6.3" fill="#383838" font-style="italic" textLength="5.40" lengthAdjust="spacingAndGlyphs" >f/f</text>
<polyline points="307.16,289.58 308.72,291.06 310.28,291.58 311.84,293.74 313.41,295.44 314.97,296.94 316.53,299.24 318.09,300.53 319.65,301.93 321.22,303.42 322.78,305.42 324.34,306.86 325.90,308.33 327.46,308.84 329.03,310.18 330.59,311.72 332.15,311.76 333.71,313.16 335.27,314.34 336.84,315.73 338.40,317.07 339.96,318.58 341.52,318.90 343.08,320.25 344.65,320.67 346.21,321.47 347.77,322.57 349.33,322.54 350.89,322.78 352.46,322.73 354.02,323.21 355.58,322.89 357.14,323.39 358.70,324.19 360.27,324.89 361.83,325.22 363.39,324.48 364.95,324.68 366.52,325.10 368.08,325.85 369.64,327.06 371.20,327.94 372.76,328.43 374.33,329.64 375.89,329.24 377.45,330.20 379.01,330.56 380.57,331.18 382.14,331.37 383.70,331.55 385.26,333.00 386.82,333.49 388.38,333.26 389.95,334.05 391.51,334.30 393.07,335.34 394.63,335.78 396.19,335.46 397.76,336.05 399.32,336.51 400.88,337.10 402.44,336.91 404.00,336.59 405.57,336.77 407.13,337.83 408.69,337.72 410.25,338.02 411.81,338.59 413.38,337.54 414.94,338.37 416.50,338.40 418.06,338.40 419.62,338.92 421.19,338.59 422.75,339.31 424.31,338.74 425.87,339.12 427.44,339.33 429.00,339.38 430.56,339.29 432.12,338.92 433.68,338.97 435.25,339.61 436.81,338.99 438.37,339.88 439.93,339.50 441.49,339.38 443.06,339.75 444.62,340.41 446.18,339.50 447.74,340.42 449.30,340.01 450.87,339.96 452.43,340.11 453.99,340.24 455.55,340.67 457.11,340.91 458.68,340.37 460.24,340.39 461.80,340.34 463.36,340.43 464.92,340.73" fill="none" stroke="#f2c27a" stroke-width="0.8" stroke-linejoin="round" stroke-dasharray="1.3 1.1"/>
<polyline points="307.16,299.83 308.72,300.61 310.28,301.58 311.84,302.76 313.41,304.25 314.97,305.56 316.53,307.23 318.09,308.49 319.65,309.48 321.22,310.63 322.78,312.84 324.34,313.56 325.90,315.02 327.46,315.37 329.03,316.67 330.59,318.55 332.15,318.71 333.71,319.67 335.27,321.47 336.84,322.61 338.40,323.93 339.96,325.16 341.52,325.50 343.08,326.90 344.65,327.64 346.21,328.20 347.77,329.36 349.33,329.27 350.89,329.32 352.46,329.28 354.02,329.81 355.58,329.91 357.14,330.64 358.70,330.81 360.27,331.60 361.83,332.21 363.39,331.53 364.95,331.88 366.52,331.84 368.08,332.96 369.64,334.03 371.20,334.35 372.76,334.85 374.33,335.41 375.89,334.75 377.45,335.48 379.01,335.14 380.57,335.72 382.14,335.66 383.70,335.81 385.26,336.96 386.82,337.04 388.38,336.56 389.95,337.22 391.51,336.97 393.07,337.81 394.63,338.35 396.19,338.19 397.76,338.81 399.32,339.50 400.88,339.55 402.44,339.51 404.00,339.28 405.57,339.87 407.13,340.81 408.69,340.91 410.25,340.75 411.81,340.99 413.38,340.45 414.94,341.15 416.50,341.02 418.06,341.15 419.62,341.67 421.19,340.97 422.75,341.75 424.31,341.34 425.87,342.22 427.44,342.06 429.00,342.40 430.56,342.06 432.12,341.36 433.68,341.73 435.25,342.25 436.81,341.90 438.37,342.60 439.93,342.61 441.49,341.86 443.06,342.57 444.62,342.79 446.18,341.90 447.74,343.10 449.30,342.89 450.87,342.52 452.43,342.83 453.99,343.26 455.55,343.35 457.11,343.39 458.68,343.03 460.24,343.40 461.80,343.14 463.36,343.27 464.92,343.19" fill="none" stroke="#f2c27a" stroke-width="0.8" stroke-linejoin="round" stroke-dasharray="1.3 1.1"/>
<polyline points="307.16,294.81 308.72,295.82 310.28,296.57 311.84,298.35 313.41,299.85 314.97,301.32 316.53,303.24 318.09,304.40 319.65,305.76 321.22,307.00 322.78,309.08 324.34,310.24 325.90,311.67 327.46,312.13 329.03,313.44 330.59,315.23 332.15,315.37 333.71,316.48 335.27,317.90 336.84,319.04 338.40,320.61 339.96,321.85 341.52,322.34 343.08,323.61 344.65,324.26 346.21,325.00 347.77,325.77 349.33,325.73 350.89,326.17 352.46,325.99 354.02,326.48 355.58,326.52 357.14,327.02 358.70,327.35 360.27,328.05 361.83,328.68 363.39,328.11 364.95,328.27 366.52,328.60 368.08,329.37 369.64,330.41 371.20,331.14 372.76,331.67 374.33,332.35 375.89,332.10 377.45,332.93 379.01,332.85 380.57,333.64 382.14,333.37 383.70,333.80 385.26,335.01 386.82,335.19 388.38,334.87 389.95,335.72 391.51,335.60 393.07,336.55 394.63,337.24 396.19,337.03 397.76,337.23 399.32,338.01 400.88,338.41 402.44,338.37 404.00,337.94 405.57,338.36 407.13,339.23 408.69,339.32 410.25,339.62 411.81,339.77 413.38,339.12 414.94,339.86 416.50,339.58 418.06,339.80 419.62,340.17 421.19,339.72 422.75,340.44 424.31,340.03 425.87,340.67 427.44,340.47 429.00,340.79 430.56,340.84 432.12,340.22 433.68,340.45 435.25,341.01 436.81,340.48 438.37,341.23 439.93,341.10 441.49,340.69 443.06,340.97 444.62,341.58 446.18,340.73 447.74,341.58 449.30,341.60 450.87,341.13 452.43,341.64 453.99,341.74 455.55,342.01 457.11,342.04 458.68,341.58 460.24,341.97 461.80,341.65 463.36,341.94 464.92,341.90" fill="none" stroke="#efbc55" stroke-width="1.0" stroke-linejoin="round"/>
<polyline points="307.16,281.30 308.72,282.75 310.28,285.14 311.84,287.80 313.41,290.88 314.97,293.68 316.53,296.12 318.09,298.71 319.65,300.49 321.22,302.97 322.78,304.63 324.34,307.00 325.90,308.62 327.46,310.28 329.03,311.61 330.59,313.09 332.15,315.18 333.71,316.64 335.27,317.98 336.84,318.03 338.40,319.30 339.96,320.48 341.52,321.45 343.08,322.30 344.65,323.15 346.21,323.98 347.77,325.25 349.33,325.28 350.89,325.98 352.46,326.63 354.02,327.22 355.58,327.55 357.14,328.11 358.70,328.95 360.27,329.44 361.83,330.31 363.39,330.59 364.95,330.78 366.52,331.39 368.08,331.96 369.64,332.72 371.20,332.91 372.76,333.63 374.33,333.36 375.89,334.35 377.45,334.87 379.01,334.98 380.57,334.98 382.14,335.81 383.70,335.63 385.26,336.06 386.82,336.01 388.38,336.57 389.95,336.36 391.51,336.65 393.07,337.16 394.63,337.38 396.19,337.14 397.76,337.47 399.32,336.99 400.88,336.87 402.44,337.66 404.00,337.57 405.57,337.25 407.13,338.35 408.69,338.25 410.25,337.73 411.81,337.92 413.38,338.13 414.94,338.92 416.50,338.71 418.06,338.08 419.62,338.18 421.19,338.69 422.75,339.30 424.31,338.61 425.87,339.10 427.44,338.95 429.00,339.61 430.56,338.55 432.12,339.29 433.68,339.20 435.25,339.52 436.81,339.48 438.37,339.48 439.93,339.71 441.49,339.66 443.06,339.35 444.62,340.11 446.18,340.02 447.74,340.41 449.30,339.63 450.87,340.45 452.43,340.50 453.99,340.37 455.55,340.08 457.11,340.17 458.68,340.02 460.24,340.93 461.80,340.48 463.36,340.40 464.92,340.98" fill="none" stroke="#de6a80" stroke-width="0.8" stroke-linejoin="round" stroke-dasharray="1.3 1.1"/>
<polyline points="307.16,288.04 308.72,289.88 310.28,292.30 311.84,294.40 313.41,297.71 314.97,300.44 316.53,303.20 318.09,305.69 319.65,307.34 321.22,309.91 322.78,311.40 324.34,313.71 325.90,315.24 327.46,316.87 329.03,318.30 330.59,320.08 332.15,322.20 333.71,323.07 335.27,324.59 336.84,325.17 338.40,326.38 339.96,327.36 341.52,328.41 343.08,329.28 344.65,329.85 346.21,330.79 347.77,332.18 349.33,331.91 350.89,332.66 352.46,333.40 354.02,333.76 355.58,334.37 357.14,334.62 358.70,335.23 360.27,335.52 361.83,336.35 363.39,335.95 364.95,335.99 366.52,336.14 368.08,336.60 369.64,336.52 371.20,336.52 372.76,337.20 374.33,336.81 375.89,336.94 377.45,337.45 379.01,337.81 380.57,337.50 382.14,338.32 383.70,338.58 385.26,338.67 386.82,338.76 388.38,339.25 389.95,339.17 391.51,339.52 393.07,339.84 394.63,340.09 396.19,340.15 397.76,340.30 399.32,339.93 400.88,339.56 402.44,340.35 404.00,340.26 405.57,340.02 407.13,341.25 408.69,341.21 410.25,340.46 411.81,340.62 413.38,341.15 414.94,341.70 416.50,341.17 418.06,340.87 419.62,341.23 421.19,340.97 422.75,341.95 424.31,341.32 425.87,342.08 427.44,341.47 429.00,342.36 430.56,341.69 432.12,341.70 433.68,342.01 435.25,342.61 436.81,342.17 438.37,342.20 439.93,342.51 441.49,342.62 443.06,342.14 444.62,342.56 446.18,342.91 447.74,343.06 449.30,342.51 450.87,342.99 452.43,343.00 453.99,343.55 455.55,342.67 457.11,343.07 458.68,343.18 460.24,343.65 461.80,343.30 463.36,343.41 464.92,343.88" fill="none" stroke="#de6a80" stroke-width="0.8" stroke-linejoin="round" stroke-dasharray="1.3 1.1"/>
<polyline points="307.16,284.46 308.72,286.34 310.28,288.65 311.84,290.96 313.41,294.31 314.97,296.94 316.53,299.72 318.09,302.30 319.65,303.79 321.22,306.42 322.78,308.03 324.34,310.29 325.90,311.99 327.46,313.63 329.03,314.99 330.59,316.72 332.15,318.70 333.71,319.80 335.27,321.31 336.84,321.67 338.40,322.83 339.96,323.93 341.52,324.92 343.08,325.80 344.65,326.38 346.21,327.33 347.77,328.54 349.33,328.52 350.89,329.48 352.46,329.79 354.02,330.46 355.58,331.06 357.14,331.58 358.70,331.98 360.27,332.60 361.83,333.30 363.39,333.09 364.95,333.52 366.52,333.60 368.08,334.18 369.64,334.59 371.20,334.64 372.76,335.50 374.33,335.17 375.89,335.64 377.45,336.15 379.01,336.40 380.57,336.39 382.14,336.98 383.70,337.09 385.26,337.21 386.82,337.59 388.38,338.02 389.95,337.81 391.51,338.23 393.07,338.39 394.63,338.59 396.19,338.57 397.76,339.03 399.32,338.57 400.88,338.38 402.44,339.07 404.00,338.86 405.57,338.76 407.13,339.78 408.69,339.80 410.25,339.22 411.81,339.27 413.38,339.56 414.94,340.13 416.50,339.96 418.06,339.58 419.62,339.64 421.19,339.81 422.75,340.51 424.31,339.93 425.87,340.50 427.44,340.23 429.00,340.91 430.56,340.14 432.12,340.59 433.68,340.53 435.25,341.11 436.81,340.75 438.37,340.85 439.93,340.90 441.49,341.20 443.06,340.88 444.62,341.33 446.18,341.44 447.74,341.63 449.30,341.16 450.87,341.81 452.43,341.75 453.99,341.97 455.55,341.43 457.11,341.56 458.68,341.62 460.24,342.18 461.80,341.82 463.36,341.96 464.92,342.27" fill="none" stroke="#b8283f" stroke-width="1.0" stroke-linejoin="round"/>
<line x1="416.30" y1="265.60" x2="431.30" y2="265.60" stroke="#eda637" stroke-width="1.0"/>
<line x1="416.30" y1="275.90" x2="431.30" y2="275.90" stroke="#b3163f" stroke-width="1.0"/>
<text x="435.20" y="268.40" font-size="8.5" fill="#383838"  >IgG</text>
<text x="435.20" y="278.70" font-size="8.5" fill="#383838"  >αLy6G</text>
<text x="462.60" y="289.80" font-size="8.5" fill="#383838" text-anchor="end" textLength="124.30" lengthAdjust="spacingAndGlyphs" >αLy6G vs IgG <tspan font-style="italic">P</tspan> &gt; .3 for all slices</text>
<text x="11.60" y="423.00" font-size="12" fill="#111" font-weight="bold" >E</text>
<line x1="50.75" y1="428.45" x2="50.75" y2="533.90" stroke="#231f20" stroke-width="1.3"/>
<line x1="209.70" y1="428.45" x2="209.70" y2="533.90" stroke="#231f20" stroke-width="1.3"/>
<line x1="50.15" y1="533.30" x2="210.30" y2="533.30" stroke="#231f20" stroke-width="1.3"/>
<line x1="47.35" y1="533.30" x2="50.75" y2="533.30" stroke="#231f20" stroke-width="1"/>
<text x="44.35" y="536.20" font-size="8.2" fill="#383838" text-anchor="end" >0</text>
<line x1="47.35" y1="512.89" x2="50.75" y2="512.89" stroke="#231f20" stroke-width="1"/>
<text x="44.35" y="515.79" font-size="8.2" fill="#383838" text-anchor="end" >10</text>
<line x1="47.35" y1="492.48" x2="50.75" y2="492.48" stroke="#231f20" stroke-width="1"/>
<text x="44.35" y="495.38" font-size="8.2" fill="#383838" text-anchor="end" >20</text>
<line x1="47.35" y1="472.07" x2="50.75" y2="472.07" stroke="#231f20" stroke-width="1"/>
<text x="44.35" y="474.97" font-size="8.2" fill="#383838" text-anchor="end" >30</text>
<line x1="47.35" y1="451.66" x2="50.75" y2="451.66" stroke="#231f20" stroke-width="1"/>
<text x="44.35" y="454.56" font-size="8.2" fill="#383838" text-anchor="end" >40</text>
<line x1="47.35" y1="431.25" x2="50.75" y2="431.25" stroke="#231f20" stroke-width="1"/>
<text x="44.35" y="434.15" font-size="8.2" fill="#383838" text-anchor="end" >50</text>
<line x1="209.70" y1="533.30" x2="212.20" y2="533.30" stroke="#231f20" stroke-width="1"/>
<text x="215.80" y="536.30" font-size="8.6" fill="#383838" textLength="17.40" lengthAdjust="spacingAndGlyphs" >0.00</text>
<line x1="209.70" y1="516.29" x2="212.20" y2="516.29" stroke="#231f20" stroke-width="1"/>
<text x="215.80" y="519.29" font-size="8.6" fill="#383838" textLength="17.40" lengthAdjust="spacingAndGlyphs" >0.05</text>
<line x1="209.70" y1="499.28" x2="212.20" y2="499.28" stroke="#231f20" stroke-width="1"/>
<text x="215.80" y="502.28" font-size="8.6" fill="#383838" textLength="17.40" lengthAdjust="spacingAndGlyphs" >0.10</text>
<line x1="209.70" y1="482.27" x2="212.20" y2="482.27" stroke="#231f20" stroke-width="1"/>
<text x="215.80" y="485.27" font-size="8.6" fill="#383838" textLength="17.40" lengthAdjust="spacingAndGlyphs" >0.15</text>
<line x1="209.70" y1="465.27" x2="212.20" y2="465.27" stroke="#231f20" stroke-width="1"/>
<text x="215.80" y="468.27" font-size="8.6" fill="#383838" textLength="17.40" lengthAdjust="spacingAndGlyphs" >0.20</text>
<line x1="209.70" y1="448.26" x2="212.20" y2="448.26" stroke="#231f20" stroke-width="1"/>
<text x="215.80" y="451.26" font-size="8.6" fill="#383838" textLength="17.40" lengthAdjust="spacingAndGlyphs" >0.25</text>
<line x1="209.70" y1="431.25" x2="212.20" y2="431.25" stroke="#231f20" stroke-width="1"/>
<text x="215.80" y="434.25" font-size="8.6" fill="#383838" textLength="17.40" lengthAdjust="spacingAndGlyphs" >0.30</text>
<line x1="63.70" y1="533.30" x2="63.70" y2="535.90" stroke="#231f20" stroke-width="1"/>
<text x="63.70" y="547.00" font-size="9" fill="#383838" text-anchor="middle" >20</text>
<line x1="108.33" y1="533.30" x2="108.33" y2="535.90" stroke="#231f20" stroke-width="1"/>
<text x="108.33" y="547.00" font-size="9" fill="#383838" text-anchor="middle" >30</text>
<line x1="152.96" y1="533.30" x2="152.96" y2="535.90" stroke="#231f20" stroke-width="1"/>
<text x="152.96" y="547.00" font-size="9" fill="#383838" text-anchor="middle" >40</text>
<line x1="197.59" y1="533.30" x2="197.59" y2="535.90" stroke="#231f20" stroke-width="1"/>
<text x="197.59" y="547.00" font-size="9" fill="#383838" text-anchor="middle" >50</text>
<text x="56.30" y="562.10" font-size="10.2" fill="#383838" textLength="149.30" lengthAdjust="spacingAndGlyphs" >Distance from knee joint (% bone length)</text>
<text transform="translate(16.40,481.47) rotate(-90)" x="0" y="0" font-size="9" fill="#383838" text-anchor="middle" textLength="81.50" lengthAdjust="spacingAndGlyphs" >Mid-density bone area</text>
<text transform="translate(27.60,481.47) rotate(-90)" x="0" y="0" font-size="9" fill="#383838" text-anchor="middle" textLength="83.60" lengthAdjust="spacingAndGlyphs" >(% cross-sectional area)</text>
<text transform="translate(238.90,482.07) rotate(90)" x="0" y="0" font-size="8.6" fill="#383838" text-anchor="middle" textLength="84.00" lengthAdjust="spacingAndGlyphs" ><tspan font-style="italic">P</tspan> value (αLy6G vs IgG)</text>
<text x="130.50" y="421.90" font-size="11" fill="#383838" font-style="italic" text-anchor="middle" textLength="35.40" lengthAdjust="spacingAndGlyphs" >Control</text>
<polyline points="50.76,502.00 52.32,502.08 53.88,502.72 55.44,503.16 57.01,503.84 58.57,503.95 60.13,504.24 61.69,505.05 63.25,505.31 64.82,505.93 66.38,506.28 67.94,506.25 69.50,506.46 71.06,507.12 72.63,506.90 74.19,507.73 75.75,507.86 77.31,508.10 78.87,507.79 80.44,508.29 82.00,508.50 83.56,508.76 85.12,509.24 86.68,509.30 88.25,509.08 89.81,509.55 91.37,509.20 92.93,509.77 94.49,509.96 96.06,509.64 97.62,510.25 99.18,509.81 100.74,510.16 102.30,510.06 103.87,510.21 105.43,510.47 106.99,510.68 108.55,510.62 110.12,510.43 111.68,510.80 113.24,510.43 114.80,510.85 116.36,510.53 117.93,510.47 119.49,510.63 121.05,510.90 122.61,510.85 124.17,510.92 125.74,511.31 127.30,511.13 128.86,510.95 130.42,511.34 131.98,511.12 133.55,511.17 135.11,511.48 136.67,511.55 138.23,511.34 139.79,511.38 141.36,511.19 142.92,511.49 144.48,511.71 146.04,511.68 147.60,511.35 149.17,511.27 150.73,511.54 152.29,511.71 153.85,511.62 155.41,511.63 156.98,511.94 158.54,511.74 160.10,511.76 161.66,511.90 163.22,512.07 164.79,512.08 166.35,511.88 167.91,511.61 169.47,512.17 171.04,511.97 172.60,512.06 174.16,512.42 175.72,512.24 177.28,512.06 178.85,511.92 180.41,512.22 181.97,511.94 183.53,512.16 185.09,512.07 186.66,512.10 188.22,512.44 189.78,512.10 191.34,512.06 192.90,512.41 194.47,512.29 196.03,512.35 197.59,512.69 199.15,512.52 200.71,512.38 202.28,512.69 203.84,512.78 205.40,512.29 206.96,512.40 208.52,512.83" fill="none" stroke="#b8d17c" stroke-width="0.8" stroke-linejoin="round" stroke-dasharray="1.3 1.1"/>
<polyline points="50.76,504.40 52.32,504.68 53.88,505.21 55.44,505.64 57.01,506.41 58.57,506.32 60.13,506.87 61.69,507.45 63.25,507.80 64.82,508.49 66.38,508.68 67.94,508.81 69.50,509.07 71.06,509.70 72.63,509.45 74.19,509.94 75.75,510.16 77.31,510.78 78.87,510.37 80.44,510.60 82.00,510.93 83.56,511.09 85.12,511.63 86.68,511.57 88.25,511.62 89.81,512.16 91.37,511.50 92.93,512.03 94.49,512.25 96.06,512.00 97.62,512.47 99.18,512.20 100.74,512.70 102.30,512.65 103.87,512.85 105.43,512.62 106.99,513.11 108.55,513.32 110.12,512.61 111.68,513.08 113.24,512.87 114.80,513.34 116.36,512.99 117.93,512.99 119.49,513.06 121.05,513.10 122.61,513.49 124.17,513.33 125.74,513.90 127.30,513.46 128.86,513.36 130.42,514.02 131.98,513.33 133.55,513.62 135.11,513.80 136.67,513.94 138.23,514.01 139.79,513.90 141.36,513.52 142.92,514.10 144.48,514.12 146.04,514.24 147.60,514.03 149.17,513.84 150.73,514.23 152.29,513.97 153.85,514.14 155.41,514.10 156.98,514.51 158.54,514.12 160.10,514.30 161.66,514.24 163.22,514.51 164.79,514.61 166.35,514.40 167.91,514.11 169.47,514.56 171.04,514.24 172.60,514.60 174.16,514.70 175.72,514.91 177.28,514.40 178.85,514.29 180.41,514.54 181.97,514.62 183.53,514.44 185.09,514.50 186.66,514.39 188.22,514.83 189.78,514.39 191.34,514.51 192.90,514.92 194.47,514.51 196.03,514.98 197.59,514.93 199.15,515.08 200.71,514.78 202.28,515.35 203.84,515.15 205.40,514.98 206.96,514.89 208.52,515.10" fill="none" stroke="#b8d17c" stroke-width="0.8" stroke-linejoin="round" stroke-dasharray="1.3 1.1"/>
<polyline points="50.76,503.09 52.32,503.33 53.88,503.92 55.44,504.51 57.01,505.10 58.57,505.18 60.13,505.60 61.69,506.21 63.25,506.64 64.82,507.13 66.38,507.56 67.94,507.62 69.50,507.78 71.06,508.38 72.63,508.22 74.19,508.81 75.75,509.06 77.31,509.43 78.87,509.10 80.44,509.50 82.00,509.64 83.56,509.94 85.12,510.44 86.68,510.40 88.25,510.44 89.81,510.82 91.37,510.43 92.93,510.89 94.49,511.13 96.06,510.83 97.62,511.36 99.18,510.98 100.74,511.35 102.30,511.36 103.87,511.56 105.43,511.54 106.99,511.80 108.55,511.96 110.12,511.51 111.68,511.95 113.24,511.67 114.80,512.08 116.36,511.67 117.93,511.78 119.49,511.92 121.05,511.97 122.61,512.14 124.17,512.10 125.74,512.53 127.30,512.37 128.86,512.22 130.42,512.66 131.98,512.25 133.55,512.30 135.11,512.62 136.67,512.67 138.23,512.65 139.79,512.72 141.36,512.37 142.92,512.78 144.48,513.02 146.04,513.01 147.60,512.66 149.17,512.52 150.73,512.85 152.29,512.88 153.85,512.88 155.41,512.78 156.98,513.13 158.54,512.93 160.10,512.99 161.66,512.97 163.22,513.27 164.79,513.31 166.35,513.23 167.91,512.90 169.47,513.29 171.04,513.16 172.60,513.37 174.16,513.52 175.72,513.57 177.28,513.14 178.85,513.19 180.41,513.47 181.97,513.31 183.53,513.34 185.09,513.23 186.66,513.23 188.22,513.59 189.78,513.26 191.34,513.31 192.90,513.57 194.47,513.41 196.03,513.68 197.59,513.78 199.15,513.89 200.71,513.53 202.28,514.00 203.84,514.08 205.40,513.66 206.96,513.70 208.52,513.91" fill="none" stroke="#b8d17c" stroke-width="1.0" stroke-linejoin="round"/>
<polygon points="50.76,501.75 52.32,502.36 53.88,502.93 55.44,504.06 57.01,503.93 58.57,504.73 60.13,504.90 61.69,505.57 63.25,505.73 64.82,506.09 66.38,506.46 67.94,506.60 69.50,507.18 71.06,507.50 72.63,507.27 74.19,507.77 75.75,507.77 77.31,508.01 78.87,508.38 80.44,508.74 82.00,508.35 83.56,508.86 85.12,508.94 86.68,508.91 88.25,509.07 89.81,509.32 91.37,509.30 92.93,509.74 94.49,509.55 96.06,509.62 97.62,510.07 99.18,510.18 100.74,510.20 102.30,510.00 103.87,510.17 105.43,510.25 106.99,510.35 108.55,510.67 110.12,510.60 111.68,510.64 113.24,510.33 114.80,510.76 116.36,510.85 117.93,510.83 119.49,511.03 121.05,510.88 122.61,510.83 124.17,510.82 125.74,510.94 127.30,511.14 128.86,511.04 130.42,511.04 131.98,510.86 133.55,511.18 135.11,511.33 136.67,511.44 138.23,511.15 139.79,511.11 141.36,511.03 142.92,511.49 144.48,511.37 146.04,511.20 147.60,511.27 149.17,511.27 150.73,511.67 152.29,511.24 153.85,511.74 155.41,511.49 156.98,511.70 158.54,511.33 160.10,511.33 161.66,511.19 163.22,511.42 164.79,511.48 166.35,511.69 167.91,511.53 169.47,511.46 171.04,511.90 172.60,511.45 174.16,512.06 175.72,512.18 177.28,512.26 178.85,512.03 180.41,512.19 181.97,511.80 183.53,511.76 185.09,512.25 186.66,512.44 188.22,512.22 189.78,512.38 191.34,512.26 192.90,512.02 194.47,512.52 196.03,512.29 197.59,512.16 199.15,512.28 200.71,512.46 202.28,511.97 203.84,512.27 205.40,512.18 206.96,512.25 208.52,512.57 208.52,515.46 206.96,515.04 205.40,515.05 203.84,514.96 202.28,514.99 200.71,515.28 199.15,515.07 197.59,514.85 196.03,515.08 194.47,515.35 192.90,514.83 191.34,514.86 189.78,515.07 188.22,514.94 186.66,515.29 185.09,515.11 183.53,514.52 181.97,514.58 180.41,514.89 178.85,514.78 177.28,515.17 175.72,515.04 174.16,514.76 172.60,514.31 171.04,514.74 169.47,514.35 167.91,514.26 166.35,514.64 164.79,514.34 163.22,514.47 161.66,514.22 160.10,514.31 158.54,514.14 156.98,514.81 155.41,514.52 153.85,514.60 152.29,514.17 150.73,514.56 149.17,513.90 147.60,514.26 146.04,513.96 144.48,514.21 142.92,514.35 141.36,514.01 139.79,514.10 138.23,513.73 136.67,514.28 135.11,514.01 133.55,513.90 131.98,513.88 130.42,514.15 128.86,514.08 127.30,513.87 125.74,514.03 124.17,513.41 122.61,513.66 121.05,513.67 119.49,513.86 117.93,513.81 116.36,513.68 114.80,513.72 113.24,513.35 111.68,513.48 110.12,513.44 108.55,513.44 106.99,513.19 105.43,513.11 103.87,513.02 102.30,512.93 100.74,513.10 99.18,513.13 97.62,512.79 96.06,512.68 94.49,512.41 92.93,512.62 91.37,512.25 89.81,512.28 88.25,511.69 86.68,511.76 85.12,511.72 83.56,511.44 82.00,511.26 80.44,511.52 78.87,511.31 77.31,510.77 75.75,510.70 74.19,510.54 72.63,510.23 71.06,510.08 69.50,509.91 67.94,509.26 66.38,509.23 64.82,508.76 63.25,508.64 61.69,508.36 60.13,507.68 58.57,507.39 57.01,506.91 55.44,506.79 53.88,505.79 52.32,505.10 50.76,504.52" fill="#d9f2d9" stroke="none"/>
<polyline points="50.76,501.75 52.32,502.36 53.88,502.93 55.44,504.06 57.01,503.93 58.57,504.73 60.13,504.90 61.69,505.57 63.25,505.73 64.82,506.09 66.38,506.46 67.94,506.60 69.50,507.18 71.06,507.50 72.63,507.27 74.19,507.77 75.75,507.77 77.31,508.01 78.87,508.38 80.44,508.74 82.00,508.35 83.56,508.86 85.12,508.94 86.68,508.91 88.25,509.07 89.81,509.32 91.37,509.30 92.93,509.74 94.49,509.55 96.06,509.62 97.62,510.07 99.18,510.18 100.74,510.20 102.30,510.00 103.87,510.17 105.43,510.25 106.99,510.35 108.55,510.67 110.12,510.60 111.68,510.64 113.24,510.33 114.80,510.76 116.36,510.85 117.93,510.83 119.49,511.03 121.05,510.88 122.61,510.83 124.17,510.82 125.74,510.94 127.30,511.14 128.86,511.04 130.42,511.04 131.98,510.86 133.55,511.18 135.11,511.33 136.67,511.44 138.23,511.15 139.79,511.11 141.36,511.03 142.92,511.49 144.48,511.37 146.04,511.20 147.60,511.27 149.17,511.27 150.73,511.67 152.29,511.24 153.85,511.74 155.41,511.49 156.98,511.70 158.54,511.33 160.10,511.33 161.66,511.19 163.22,511.42 164.79,511.48 166.35,511.69 167.91,511.53 169.47,511.46 171.04,511.90 172.60,511.45 174.16,512.06 175.72,512.18 177.28,512.26 178.85,512.03 180.41,512.19 181.97,511.80 183.53,511.76 185.09,512.25 186.66,512.44 188.22,512.22 189.78,512.38 191.34,512.26 192.90,512.02 194.47,512.52 196.03,512.29 197.59,512.16 199.15,512.28 200.71,512.46 202.28,511.97 203.84,512.27 205.40,512.18 206.96,512.25 208.52,512.57" fill="none" stroke="#7cc87c" stroke-width="0.8" stroke-linejoin="round" stroke-dasharray="1.3 1.1"/>
<polyline points="50.76,504.52 52.32,505.10 53.88,505.79 55.44,506.79 57.01,506.91 58.57,507.39 60.13,507.68 61.69,508.36 63.25,508.64 64.82,508.76 66.38,509.23 67.94,509.26 69.50,509.91 71.06,510.08 72.63,510.23 74.19,510.54 75.75,510.70 77.31,510.77 78.87,511.31 80.44,511.52 82.00,511.26 83.56,511.44 85.12,511.72 86.68,511.76 88.25,511.69 89.81,512.28 91.37,512.25 92.93,512.62 94.49,512.41 96.06,512.68 97.62,512.79 99.18,513.13 100.74,513.10 102.30,512.93 103.87,513.02 105.43,513.11 106.99,513.19 108.55,513.44 110.12,513.44 111.68,513.48 113.24,513.35 114.80,513.72 116.36,513.68 117.93,513.81 119.49,513.86 121.05,513.67 122.61,513.66 124.17,513.41 125.74,514.03 127.30,513.87 128.86,514.08 130.42,514.15 131.98,513.88 133.55,513.90 135.11,514.01 136.67,514.28 138.23,513.73 139.79,514.10 141.36,514.01 142.92,514.35 144.48,514.21 146.04,513.96 147.60,514.26 149.17,513.90 150.73,514.56 152.29,514.17 153.85,514.60 155.41,514.52 156.98,514.81 158.54,514.14 160.10,514.31 161.66,514.22 163.22,514.47 164.79,514.34 166.35,514.64 167.91,514.26 169.47,514.35 171.04,514.74 172.60,514.31 174.16,514.76 175.72,515.04 177.28,515.17 178.85,514.78 180.41,514.89 181.97,514.58 183.53,514.52 185.09,515.11 186.66,515.29 188.22,514.94 189.78,515.07 191.34,514.86 192.90,514.83 194.47,515.35 196.03,515.08 197.59,514.85 199.15,515.07 200.71,515.28 202.28,514.99 203.84,514.96 205.40,515.05 206.96,515.04 208.52,515.46" fill="none" stroke="#7cc87c" stroke-width="0.8" stroke-linejoin="round" stroke-dasharray="1.3 1.1"/>
<polyline points="50.76,503.04 52.32,503.66 53.88,504.33 55.44,505.37 57.01,505.49 58.57,506.02 60.13,506.34 61.69,506.94 63.25,507.26 64.82,507.41 66.38,507.84 67.94,507.98 69.50,508.53 71.06,508.78 72.63,508.68 74.19,509.07 75.75,509.23 77.31,509.31 78.87,509.75 80.44,510.15 82.00,509.90 83.56,510.16 85.12,510.26 86.68,510.43 88.25,510.36 89.81,510.87 91.37,510.75 92.93,511.10 94.49,511.08 96.06,511.13 97.62,511.45 99.18,511.70 100.74,511.54 102.30,511.46 103.87,511.61 105.43,511.77 106.99,511.72 108.55,512.07 110.12,512.12 111.68,512.07 113.24,511.81 114.80,512.23 116.36,512.33 117.93,512.38 119.49,512.46 121.05,512.36 122.61,512.22 124.17,512.11 125.74,512.45 127.30,512.47 128.86,512.56 130.42,512.60 131.98,512.34 133.55,512.50 135.11,512.71 136.67,512.83 138.23,512.45 139.79,512.52 141.36,512.48 142.92,512.87 144.48,512.71 146.04,512.51 147.60,512.74 149.17,512.55 150.73,513.05 152.29,512.59 153.85,513.18 155.41,512.99 156.98,513.26 158.54,512.80 160.10,512.91 161.66,512.76 163.22,512.89 164.79,512.83 166.35,513.11 167.91,512.86 169.47,513.04 171.04,513.31 172.60,512.96 174.16,513.35 175.72,513.49 177.28,513.59 178.85,513.38 180.41,513.58 181.97,513.16 183.53,513.17 185.09,513.65 186.66,513.75 188.22,513.52 189.78,513.77 191.34,513.57 192.90,513.43 194.47,513.80 196.03,513.73 197.59,513.46 199.15,513.77 200.71,513.86 202.28,513.55 203.84,513.62 205.40,513.60 206.96,513.76 208.52,513.95" fill="none" stroke="#2f6f2f" stroke-width="1.0" stroke-linejoin="round"/>
<line x1="52.30" y1="435.60" x2="63.80" y2="435.60" stroke="#45a845" stroke-width="1.0"/>
<line x1="52.30" y1="445.90" x2="63.80" y2="445.90" stroke="#b8d17c" stroke-width="1.0"/>
<text x="68.60" y="438.40" font-size="8.5" fill="#383838"  >IgG</text>
<text x="68.60" y="448.70" font-size="8.5" fill="#383838"  >αLy6G</text>
<text x="53.60" y="459.80" font-size="8.5" fill="#383838" textLength="124.30" lengthAdjust="spacingAndGlyphs" >αLy6G vs IgG <tspan font-style="italic">P</tspan> &gt; .3 for all slices</text>
<text x="268.20" y="423.00" font-size="12" fill="#111" font-weight="bold" >F</text>
<line x1="307.15" y1="428.45" x2="307.15" y2="533.90" stroke="#231f20" stroke-width="1.3"/>
<line x1="466.10" y1="428.45" x2="466.10" y2="533.90" stroke="#231f20" stroke-width="1.3"/>
<line x1="306.55" y1="533.30" x2="466.70" y2="533.30" stroke="#231f20" stroke-width="1.3"/>
<line x1="303.75" y1="533.30" x2="307.15" y2="533.30" stroke="#231f20" stroke-width="1"/>
<text x="300.75" y="536.20" font-size="8.2" fill="#383838" text-anchor="end" >0</text>
<line x1="303.75" y1="512.89" x2="307.15" y2="512.89" stroke="#231f20" stroke-width="1"/>
<text x="300.75" y="515.79" font-size="8.2" fill="#383838" text-anchor="end" >10</text>
<line x1="303.75" y1="492.48" x2="307.15" y2="492.48" stroke="#231f20" stroke-width="1"/>
<text x="300.75" y="495.38" font-size="8.2" fill="#383838" text-anchor="end" >20</text>
<line x1="303.75" y1="472.07" x2="307.15" y2="472.07" stroke="#231f20" stroke-width="1"/>
<text x="300.75" y="474.97" font-size="8.2" fill="#383838" text-anchor="end" >30</text>
<line x1="303.75" y1="451.66" x2="307.15" y2="451.66" stroke="#231f20" stroke-width="1"/>
<text x="300.75" y="454.56" font-size="8.2" fill="#383838" text-anchor="end" >40</text>
<line x1="303.75" y1="431.25" x2="307.15" y2="431.25" stroke="#231f20" stroke-width="1"/>
<text x="300.75" y="434.15" font-size="8.2" fill="#383838" text-anchor="end" >50</text>
<line x1="466.10" y1="533.30" x2="468.60" y2="533.30" stroke="#231f20" stroke-width="1"/>
<text x="472.20" y="536.30" font-size="8.6" fill="#383838" textLength="17.40" lengthAdjust="spacingAndGlyphs" >0.00</text>
<line x1="466.10" y1="516.29" x2="468.60" y2="516.29" stroke="#231f20" stroke-width="1"/>
<text x="472.20" y="519.29" font-size="8.6" fill="#383838" textLength="17.40" lengthAdjust="spacingAndGlyphs" >0.05</text>
<line x1="466.10" y1="499.28" x2="468.60" y2="499.28" stroke="#231f20" stroke-width="1"/>
<text x="472.20" y="502.28" font-size="8.6" fill="#383838" textLength="17.40" lengthAdjust="spacingAndGlyphs" >0.10</text>
<line x1="466.10" y1="482.27" x2="468.60" y2="482.27" stroke="#231f20" stroke-width="1"/>
<text x="472.20" y="485.27" font-size="8.6" fill="#383838" textLength="17.40" lengthAdjust="spacingAndGlyphs" >0.15</text>
<line x1="466.10" y1="465.27" x2="468.60" y2="465.27" stroke="#231f20" stroke-width="1"/>
<text x="472.20" y="468.27" font-size="8.6" fill="#383838" textLength="17.40" lengthAdjust="spacingAndGlyphs" >0.20</text>
<line x1="466.10" y1="448.26" x2="468.60" y2="448.26" stroke="#231f20" stroke-width="1"/>
<text x="472.20" y="451.26" font-size="8.6" fill="#383838" textLength="17.40" lengthAdjust="spacingAndGlyphs" >0.25</text>
<line x1="466.10" y1="431.25" x2="468.60" y2="431.25" stroke="#231f20" stroke-width="1"/>
<text x="472.20" y="434.25" font-size="8.6" fill="#383838" textLength="17.40" lengthAdjust="spacingAndGlyphs" >0.30</text>
<line x1="320.10" y1="533.30" x2="320.10" y2="535.90" stroke="#231f20" stroke-width="1"/>
<text x="320.10" y="547.00" font-size="9" fill="#383838" text-anchor="middle" >20</text>
<line x1="364.73" y1="533.30" x2="364.73" y2="535.90" stroke="#231f20" stroke-width="1"/>
<text x="364.73" y="547.00" font-size="9" fill="#383838" text-anchor="middle" >30</text>
<line x1="409.36" y1="533.30" x2="409.36" y2="535.90" stroke="#231f20" stroke-width="1"/>
<text x="409.36" y="547.00" font-size="9" fill="#383838" text-anchor="middle" >40</text>
<line x1="453.99" y1="533.30" x2="453.99" y2="535.90" stroke="#231f20" stroke-width="1"/>
<text x="453.99" y="547.00" font-size="9" fill="#383838" text-anchor="middle" >50</text>
<text x="312.70" y="562.10" font-size="10.2" fill="#383838" textLength="149.30" lengthAdjust="spacingAndGlyphs" >Distance from knee joint (% bone length)</text>
<text transform="translate(272.80,481.47) rotate(-90)" x="0" y="0" font-size="9" fill="#383838" text-anchor="middle" textLength="81.50" lengthAdjust="spacingAndGlyphs" >Mid-density bone area</text>
<text transform="translate(284.00,481.47) rotate(-90)" x="0" y="0" font-size="9" fill="#383838" text-anchor="middle" textLength="83.60" lengthAdjust="spacingAndGlyphs" >(% cross-sectional area)</text>
<text transform="translate(495.30,482.07) rotate(90)" x="0" y="0" font-size="8.6" fill="#383838" text-anchor="middle" textLength="84.00" lengthAdjust="spacingAndGlyphs" ><tspan font-style="italic">P</tspan> value (αLy6G vs IgG)</text>
<text x="346.50" y="422.30" font-size="11" fill="#383838" font-style="italic" textLength="74.10" lengthAdjust="spacingAndGlyphs" >Dmp1Cre.Socs3</text>
<text x="421.20" y="417.80" font-size="6.3" fill="#383838" font-style="italic" textLength="5.40" lengthAdjust="spacingAndGlyphs" >f/f</text>
<polyline points="307.16,467.76 308.72,467.26 310.28,467.16 311.84,466.59 313.41,466.92 314.97,466.47 316.53,466.09 318.09,464.90 319.65,465.24 321.22,464.21 322.78,463.69 324.34,463.98 325.90,463.26 327.46,463.33 329.03,463.18 330.59,463.74 332.15,466.18 333.71,468.28 335.27,468.98 336.84,470.89 338.40,472.53 339.96,473.20 341.52,474.09 343.08,474.14 344.65,475.51 346.21,476.45 347.77,476.14 349.33,476.85 350.89,476.95 352.46,477.72 354.02,478.65 355.58,479.44 357.14,479.53 358.70,479.77 360.27,481.70 361.83,481.52 363.39,482.02 364.95,483.18 366.52,484.70 368.08,485.00 369.64,485.53 371.20,487.18 372.76,487.68 374.33,488.66 375.89,490.11 377.45,490.32 379.01,491.63 380.57,492.22 382.14,492.88 383.70,493.23 385.26,494.14 386.82,494.59 388.38,494.97 389.95,495.78 391.51,496.69 393.07,497.35 394.63,497.80 396.19,498.36 397.76,498.61 399.32,499.73 400.88,499.87 402.44,499.89 404.00,500.20 405.57,500.61 407.13,501.71 408.69,502.02 410.25,501.65 411.81,502.36 413.38,502.35 414.94,503.86 416.50,503.72 418.06,504.03 419.62,504.63 421.19,504.80 422.75,505.33 424.31,505.80 425.87,506.16 427.44,506.00 429.00,506.93 430.56,507.49 432.12,507.41 433.68,507.23 435.25,507.43 436.81,508.15 438.37,508.04 439.93,507.87 441.49,508.98 443.06,509.04 444.62,508.84 446.18,509.07 447.74,509.88 449.30,510.15 450.87,509.95 452.43,509.59 453.99,509.77 455.55,509.73 457.11,510.32 458.68,510.60 460.24,510.41 461.80,510.39 463.36,511.10 464.92,511.55" fill="none" stroke="#b8d17c" stroke-width="0.8" stroke-linejoin="round" stroke-dasharray="1.3 1.1"/>
<polyline points="307.16,474.84 308.72,474.51 310.28,474.13 311.84,473.64 313.41,473.96 314.97,473.89 316.53,473.15 318.09,472.43 319.65,472.24 321.22,471.35 322.78,471.24 324.34,471.38 325.90,470.81 327.46,470.42 329.03,470.39 330.59,471.04 332.15,473.31 333.71,475.59 335.27,476.35 336.84,478.03 338.40,479.74 339.96,480.75 341.52,481.62 343.08,481.72 344.65,483.22 346.21,483.39 347.77,483.47 349.33,484.10 350.89,484.48 352.46,484.88 354.02,485.57 355.58,486.80 357.14,486.58 358.70,487.24 360.27,488.83 361.83,488.92 363.39,489.70 364.95,490.65 366.52,491.89 368.08,492.12 369.64,492.59 371.20,494.05 372.76,494.15 374.33,495.47 375.89,496.72 377.45,496.86 379.01,497.78 380.57,498.44 382.14,499.09 383.70,499.24 385.26,499.90 386.82,500.40 388.38,500.52 389.95,501.23 391.51,502.31 393.07,502.88 394.63,502.85 396.19,503.30 397.76,503.27 399.32,504.69 400.88,504.99 402.44,504.53 404.00,504.77 405.57,504.91 407.13,506.26 408.69,506.07 410.25,506.01 411.81,506.40 413.38,506.09 414.94,507.57 416.50,507.30 418.06,507.20 419.62,507.98 421.19,507.93 422.75,508.29 424.31,508.79 425.87,509.51 427.44,508.78 429.00,509.82 430.56,509.85 432.12,510.37 433.68,509.84 435.25,510.38 436.81,510.94 438.37,511.24 439.93,510.81 441.49,511.69 443.06,511.83 444.62,511.61 446.18,511.83 447.74,512.75 449.30,512.67 450.87,512.93 452.43,512.43 453.99,512.89 455.55,512.81 457.11,513.23 458.68,513.65 460.24,513.21 461.80,513.18 463.36,513.91 464.92,514.53" fill="none" stroke="#b8d17c" stroke-width="0.8" stroke-linejoin="round" stroke-dasharray="1.3 1.1"/>
<polyline points="307.16,471.34 308.72,471.07 310.28,470.62 311.84,470.15 313.41,470.54 314.97,470.35 316.53,469.69 318.09,468.62 319.65,468.71 321.22,467.71 322.78,467.47 324.34,467.68 325.90,467.04 327.46,466.98 329.03,466.85 330.59,467.26 332.15,469.72 333.71,471.73 335.27,472.48 336.84,474.54 338.40,476.26 339.96,476.99 341.52,477.83 343.08,477.97 344.65,479.31 346.21,479.87 347.77,480.01 349.33,480.53 350.89,480.59 352.46,481.18 354.02,482.15 355.58,482.90 357.14,483.00 358.70,483.59 360.27,485.31 361.83,485.34 363.39,485.95 364.95,486.91 366.52,488.16 368.08,488.38 369.64,489.26 371.20,490.62 372.76,490.97 374.33,492.21 375.89,493.21 377.45,493.72 379.01,494.53 380.57,495.28 382.14,495.84 383.70,496.46 385.26,497.04 386.82,497.49 388.38,497.93 389.95,498.60 391.51,499.56 393.07,500.15 394.63,500.16 396.19,500.70 397.76,501.03 399.32,502.09 400.88,502.39 402.44,502.00 404.00,502.68 405.57,502.94 407.13,503.91 408.69,503.96 410.25,503.80 411.81,504.42 413.38,504.43 414.94,505.60 416.50,505.65 418.06,505.60 419.62,506.27 421.19,506.22 422.75,506.76 424.31,507.52 425.87,507.85 427.44,507.25 429.00,508.44 430.56,508.67 432.12,508.77 433.68,508.62 435.25,508.72 436.81,509.34 438.37,509.56 439.93,509.50 441.49,510.26 443.06,510.40 444.62,510.39 446.18,510.61 447.74,511.41 449.30,511.49 450.87,511.61 452.43,511.17 453.99,511.35 455.55,511.22 457.11,511.58 458.68,512.26 460.24,511.89 461.80,511.82 463.36,512.62 464.92,513.12" fill="none" stroke="#b8d17c" stroke-width="1.0" stroke-linejoin="round"/>
<polygon points="307.16,451.59 308.72,450.70 310.28,449.53 311.84,449.23 313.41,448.28 314.97,447.16 316.53,446.32 318.09,446.79 319.65,446.71 321.22,447.37 322.78,448.17 324.34,449.15 325.90,451.14 327.46,452.55 329.03,453.53 330.59,455.07 332.15,457.14 333.71,458.61 335.27,459.96 336.84,461.76 338.40,462.08 339.96,463.45 341.52,464.87 343.08,465.59 344.65,467.09 346.21,468.59 347.77,469.96 349.33,471.81 350.89,472.84 352.46,473.48 354.02,474.99 355.58,476.56 357.14,476.48 358.70,477.51 360.27,479.54 361.83,480.10 363.39,481.07 364.95,482.11 366.52,483.31 368.08,483.63 369.64,484.74 371.20,485.68 372.76,486.65 374.33,487.69 375.89,488.67 377.45,488.97 379.01,489.54 380.57,490.89 382.14,492.23 383.70,493.21 385.26,493.98 386.82,494.15 388.38,495.04 389.95,495.09 391.51,495.93 393.07,496.53 394.63,496.35 396.19,497.10 397.76,497.54 399.32,498.24 400.88,498.67 402.44,498.72 404.00,499.99 405.57,500.68 407.13,500.74 408.69,500.93 410.25,500.88 411.81,502.30 413.38,501.67 414.94,503.23 416.50,502.75 418.06,503.56 419.62,503.98 421.19,503.74 422.75,504.21 424.31,504.95 425.87,505.11 427.44,505.18 429.00,506.52 430.56,506.53 432.12,506.59 433.68,506.74 435.25,507.13 436.81,507.23 438.37,507.53 439.93,508.05 441.49,507.97 443.06,507.74 444.62,508.48 446.18,509.36 447.74,509.05 449.30,508.93 450.87,509.42 452.43,510.01 453.99,509.99 455.55,509.77 457.11,509.81 458.68,510.37 460.24,510.06 461.80,509.98 463.36,509.96 464.92,510.37 464.92,513.49 463.36,513.31 461.80,513.34 460.24,513.34 458.68,513.72 457.11,513.07 455.55,512.66 453.99,513.09 452.43,513.15 450.87,512.89 449.30,511.96 447.74,512.32 446.18,512.65 444.62,511.75 443.06,511.43 441.49,511.22 439.93,511.63 438.37,510.97 436.81,510.80 435.25,510.67 433.68,510.51 432.12,510.43 430.56,510.76 429.00,510.29 427.44,509.37 425.87,509.25 424.31,509.63 422.75,508.59 421.19,508.29 419.62,508.46 418.06,508.15 416.50,507.87 414.94,508.25 413.38,506.80 411.81,507.20 410.25,506.47 408.69,506.27 407.13,506.12 405.57,506.01 404.00,505.28 402.44,504.82 400.88,504.44 399.32,504.32 397.76,503.90 396.19,503.34 394.63,502.83 393.07,502.88 391.51,502.58 389.95,501.74 388.38,501.41 386.82,500.95 385.26,500.95 383.70,499.75 382.14,499.03 380.57,498.04 379.01,497.07 377.45,496.29 375.89,496.35 374.33,495.10 372.76,494.43 371.20,493.51 369.64,492.41 368.08,491.77 366.52,491.42 364.95,490.11 363.39,489.22 361.83,488.31 360.27,487.56 358.70,486.06 357.14,484.70 355.58,484.82 354.02,483.63 352.46,481.31 350.89,481.34 349.33,479.82 347.77,477.81 346.21,476.79 344.65,474.90 343.08,474.04 341.52,473.06 339.96,471.70 338.40,470.37 336.84,469.78 335.27,467.78 333.71,466.81 332.15,465.14 330.59,463.35 329.03,461.58 327.46,460.50 325.90,458.94 324.34,457.31 322.78,456.75 321.22,455.55 319.65,455.01 318.09,455.18 316.53,454.38 314.97,455.49 313.41,456.37 311.84,457.40 310.28,457.82 308.72,458.79 307.16,459.66" fill="#e3f5e3" stroke="none"/>
<polyline points="307.16,451.59 308.72,450.70 310.28,449.53 311.84,449.23 313.41,448.28 314.97,447.16 316.53,446.32 318.09,446.79 319.65,446.71 321.22,447.37 322.78,448.17 324.34,449.15 325.90,451.14 327.46,452.55 329.03,453.53 330.59,455.07 332.15,457.14 333.71,458.61 335.27,459.96 336.84,461.76 338.40,462.08 339.96,463.45 341.52,464.87 343.08,465.59 344.65,467.09 346.21,468.59 347.77,469.96 349.33,471.81 350.89,472.84 352.46,473.48 354.02,474.99 355.58,476.56 357.14,476.48 358.70,477.51 360.27,479.54 361.83,480.10 363.39,481.07 364.95,482.11 366.52,483.31 368.08,483.63 369.64,484.74 371.20,485.68 372.76,486.65 374.33,487.69 375.89,488.67 377.45,488.97 379.01,489.54 380.57,490.89 382.14,492.23 383.70,493.21 385.26,493.98 386.82,494.15 388.38,495.04 389.95,495.09 391.51,495.93 393.07,496.53 394.63,496.35 396.19,497.10 397.76,497.54 399.32,498.24 400.88,498.67 402.44,498.72 404.00,499.99 405.57,500.68 407.13,500.74 408.69,500.93 410.25,500.88 411.81,502.30 413.38,501.67 414.94,503.23 416.50,502.75 418.06,503.56 419.62,503.98 421.19,503.74 422.75,504.21 424.31,504.95 425.87,505.11 427.44,505.18 429.00,506.52 430.56,506.53 432.12,506.59 433.68,506.74 435.25,507.13 436.81,507.23 438.37,507.53 439.93,508.05 441.49,507.97 443.06,507.74 444.62,508.48 446.18,509.36 447.74,509.05 449.30,508.93 450.87,509.42 452.43,510.01 453.99,509.99 455.55,509.77 457.11,509.81 458.68,510.37 460.24,510.06 461.80,509.98 463.36,509.96 464.92,510.37" fill="none" stroke="#5cb85c" stroke-width="0.8" stroke-linejoin="round" stroke-dasharray="1.3 1.1"/>
<polyline points="307.16,459.66 308.72,458.79 310.28,457.82 311.84,457.40 313.41,456.37 314.97,455.49 316.53,454.38 318.09,455.18 319.65,455.01 321.22,455.55 322.78,456.75 324.34,457.31 325.90,458.94 327.46,460.50 329.03,461.58 330.59,463.35 332.15,465.14 333.71,466.81 335.27,467.78 336.84,469.78 338.40,470.37 339.96,471.70 341.52,473.06 343.08,474.04 344.65,474.90 346.21,476.79 347.77,477.81 349.33,479.82 350.89,481.34 352.46,481.31 354.02,483.63 355.58,484.82 357.14,484.70 358.70,486.06 360.27,487.56 361.83,488.31 363.39,489.22 364.95,490.11 366.52,491.42 368.08,491.77 369.64,492.41 371.20,493.51 372.76,494.43 374.33,495.10 375.89,496.35 377.45,496.29 379.01,497.07 380.57,498.04 382.14,499.03 383.70,499.75 385.26,500.95 386.82,500.95 388.38,501.41 389.95,501.74 391.51,502.58 393.07,502.88 394.63,502.83 396.19,503.34 397.76,503.90 399.32,504.32 400.88,504.44 402.44,504.82 404.00,505.28 405.57,506.01 407.13,506.12 408.69,506.27 410.25,506.47 411.81,507.20 413.38,506.80 414.94,508.25 416.50,507.87 418.06,508.15 419.62,508.46 421.19,508.29 422.75,508.59 424.31,509.63 425.87,509.25 427.44,509.37 429.00,510.29 430.56,510.76 432.12,510.43 433.68,510.51 435.25,510.67 436.81,510.80 438.37,510.97 439.93,511.63 441.49,511.22 443.06,511.43 444.62,511.75 446.18,512.65 447.74,512.32 449.30,511.96 450.87,512.89 452.43,513.15 453.99,513.09 455.55,512.66 457.11,513.07 458.68,513.72 460.24,513.34 461.80,513.34 463.36,513.31 464.92,513.49" fill="none" stroke="#5cb85c" stroke-width="0.8" stroke-linejoin="round" stroke-dasharray="1.3 1.1"/>
<polyline points="307.16,455.67 308.72,454.77 310.28,453.75 311.84,453.47 313.41,452.28 314.97,451.26 316.53,450.46 318.09,450.98 319.65,451.02 321.22,451.58 322.78,452.45 324.34,453.31 325.90,455.10 327.46,456.52 329.03,457.36 330.59,459.16 332.15,461.05 333.71,462.59 335.27,463.87 336.84,465.59 338.40,466.30 339.96,467.44 341.52,469.03 343.08,469.87 344.65,471.07 346.21,472.71 347.77,473.85 349.33,475.69 350.89,477.02 352.46,477.35 354.02,479.32 355.58,480.52 357.14,480.75 358.70,481.83 360.27,483.40 361.83,484.13 363.39,485.15 364.95,486.05 366.52,487.20 368.08,487.55 369.64,488.65 371.20,489.44 372.76,490.53 374.33,491.48 375.89,492.42 377.45,492.41 379.01,493.38 380.57,494.41 382.14,495.70 383.70,496.52 385.26,497.29 386.82,497.57 388.38,498.32 389.95,498.58 391.51,499.14 393.07,499.63 394.63,499.65 396.19,500.33 397.76,500.80 399.32,501.40 400.88,501.64 402.44,501.76 404.00,502.63 405.57,503.25 407.13,503.21 408.69,503.69 410.25,503.66 411.81,504.72 413.38,504.32 414.94,505.58 416.50,505.35 418.06,505.76 419.62,506.20 421.19,505.92 422.75,506.41 424.31,507.27 425.87,507.24 427.44,507.43 429.00,508.32 430.56,508.57 432.12,508.30 433.68,508.40 435.25,508.91 436.81,509.19 438.37,509.35 439.93,509.83 441.49,509.44 443.06,509.60 444.62,510.32 446.18,511.03 447.74,510.84 449.30,510.58 450.87,511.22 452.43,511.59 453.99,511.67 455.55,511.28 457.11,511.53 458.68,512.02 460.24,511.83 461.80,511.84 463.36,511.79 464.92,512.08" fill="none" stroke="#3a803a" stroke-width="1.0" stroke-linejoin="round"/>
<polyline points="307.80,528.80 310.00,529.60 312.00,530.60 315.00,532.00 318.00,532.60 321.00,532.40 323.00,529.00 325.00,520.00 327.00,506.00 328.50,498.50 329.30,497.50 330.00,499.00 331.00,490.00 332.50,472.00 334.00,452.00 335.20,436.00 335.60,429.50" fill="none" stroke="#a3a3a3" stroke-width="0.85" stroke-linejoin="round"/>
<line x1="307.15" y1="516.60" x2="466.10" y2="516.60" stroke="#111" stroke-width="1.6" stroke-dasharray="2.1 2.5"/>
<line x1="359.70" y1="434.70" x2="370.30" y2="434.70" stroke="#45a845" stroke-width="1.0"/>
<line x1="359.70" y1="446.20" x2="370.30" y2="446.20" stroke="#b8d17c" stroke-width="1.0"/>
<line x1="359.70" y1="456.80" x2="370.30" y2="456.80" stroke="#9a9a9a" stroke-width="1.0"/>
<text x="374.40" y="437.60" font-size="8.5" fill="#383838"  >IgG</text>
<text x="374.40" y="449.10" font-size="8.5" fill="#383838"  >αLy6G</text>
<text x="374.40" y="459.70" font-size="8.5" fill="#383838" textLength="87.80" lengthAdjust="spacingAndGlyphs" ><tspan font-style="italic">P</tspan> value (αLy6G vs IgG)</text>
<text x="11.80" y="587.30" font-size="12" fill="#111" font-weight="bold" >G</text>
<line x1="50.75" y1="604.45" x2="50.75" y2="709.90" stroke="#231f20" stroke-width="1.3"/>
<line x1="209.70" y1="604.45" x2="209.70" y2="709.90" stroke="#231f20" stroke-width="1.3"/>
<line x1="50.15" y1="709.30" x2="210.30" y2="709.30" stroke="#231f20" stroke-width="1.3"/>
<line x1="47.35" y1="709.30" x2="50.75" y2="709.30" stroke="#231f20" stroke-width="1"/>
<text x="44.35" y="712.20" font-size="8.2" fill="#383838" text-anchor="end" >0</text>
<line x1="47.35" y1="683.79" x2="50.75" y2="683.79" stroke="#231f20" stroke-width="1"/>
<text x="44.35" y="686.69" font-size="8.2" fill="#383838" text-anchor="end" >10</text>
<line x1="47.35" y1="658.27" x2="50.75" y2="658.27" stroke="#231f20" stroke-width="1"/>
<text x="44.35" y="661.17" font-size="8.2" fill="#383838" text-anchor="end" >20</text>
<line x1="47.35" y1="632.76" x2="50.75" y2="632.76" stroke="#231f20" stroke-width="1"/>
<text x="44.35" y="635.66" font-size="8.2" fill="#383838" text-anchor="end" >30</text>
<line x1="47.35" y1="607.25" x2="50.75" y2="607.25" stroke="#231f20" stroke-width="1"/>
<text x="44.35" y="610.15" font-size="8.2" fill="#383838" text-anchor="end" >40</text>
<line x1="209.70" y1="709.30" x2="212.20" y2="709.30" stroke="#231f20" stroke-width="1"/>
<text x="215.80" y="712.30" font-size="8.6" fill="#383838" textLength="17.40" lengthAdjust="spacingAndGlyphs" >0.00</text>
<line x1="209.70" y1="692.29" x2="212.20" y2="692.29" stroke="#231f20" stroke-width="1"/>
<text x="215.80" y="695.29" font-size="8.6" fill="#383838" textLength="17.40" lengthAdjust="spacingAndGlyphs" >0.05</text>
<line x1="209.70" y1="675.28" x2="212.20" y2="675.28" stroke="#231f20" stroke-width="1"/>
<text x="215.80" y="678.28" font-size="8.6" fill="#383838" textLength="17.40" lengthAdjust="spacingAndGlyphs" >0.10</text>
<line x1="209.70" y1="658.27" x2="212.20" y2="658.27" stroke="#231f20" stroke-width="1"/>
<text x="215.80" y="661.27" font-size="8.6" fill="#383838" textLength="17.40" lengthAdjust="spacingAndGlyphs" >0.15</text>
<line x1="209.70" y1="641.27" x2="212.20" y2="641.27" stroke="#231f20" stroke-width="1"/>
<text x="215.80" y="644.27" font-size="8.6" fill="#383838" textLength="17.40" lengthAdjust="spacingAndGlyphs" >0.20</text>
<line x1="209.70" y1="624.26" x2="212.20" y2="624.26" stroke="#231f20" stroke-width="1"/>
<text x="215.80" y="627.26" font-size="8.6" fill="#383838" textLength="17.40" lengthAdjust="spacingAndGlyphs" >0.25</text>
<line x1="209.70" y1="607.25" x2="212.20" y2="607.25" stroke="#231f20" stroke-width="1"/>
<text x="215.80" y="610.25" font-size="8.6" fill="#383838" textLength="17.40" lengthAdjust="spacingAndGlyphs" >0.30</text>
<line x1="63.70" y1="709.30" x2="63.70" y2="711.90" stroke="#231f20" stroke-width="1"/>
<text x="63.70" y="723.00" font-size="9" fill="#383838" text-anchor="middle" >20</text>
<line x1="108.33" y1="709.30" x2="108.33" y2="711.90" stroke="#231f20" stroke-width="1"/>
<text x="108.33" y="723.00" font-size="9" fill="#383838" text-anchor="middle" >30</text>
<line x1="152.96" y1="709.30" x2="152.96" y2="711.90" stroke="#231f20" stroke-width="1"/>
<text x="152.96" y="723.00" font-size="9" fill="#383838" text-anchor="middle" >40</text>
<line x1="197.59" y1="709.30" x2="197.59" y2="711.90" stroke="#231f20" stroke-width="1"/>
<text x="197.59" y="723.00" font-size="9" fill="#383838" text-anchor="middle" >50</text>
<text x="56.30" y="738.10" font-size="10.2" fill="#383838" textLength="149.30" lengthAdjust="spacingAndGlyphs" >Distance from knee joint (% bone length)</text>
<text transform="translate(16.40,657.48) rotate(-90)" x="0" y="0" font-size="9" fill="#383838" text-anchor="middle" textLength="81.50" lengthAdjust="spacingAndGlyphs" >High density bone area</text>
<text transform="translate(27.60,657.48) rotate(-90)" x="0" y="0" font-size="9" fill="#383838" text-anchor="middle" textLength="83.60" lengthAdjust="spacingAndGlyphs" >(% cross-sectional area)</text>
<text transform="translate(238.90,658.08) rotate(90)" x="0" y="0" font-size="8.6" fill="#383838" text-anchor="middle" textLength="84.00" lengthAdjust="spacingAndGlyphs" ><tspan font-style="italic">P</tspan> value (αLy6G vs IgG)</text>
<text x="130.50" y="598.80" font-size="11" fill="#383838" font-style="italic" text-anchor="middle" textLength="35.40" lengthAdjust="spacingAndGlyphs" >Control</text>
<polygon points="50.76,677.52 52.32,676.63 53.88,675.03 55.44,673.26 57.01,672.00 58.57,670.90 60.13,669.62 61.69,668.39 63.25,666.72 64.82,665.61 66.38,664.54 67.94,663.62 69.50,662.28 71.06,661.37 72.63,660.51 74.19,659.84 75.75,657.97 77.31,657.73 78.87,656.31 80.44,655.11 82.00,655.20 83.56,653.58 85.12,653.75 86.68,652.16 88.25,651.50 89.81,651.05 91.37,649.89 92.93,649.30 94.49,649.35 96.06,648.25 97.62,648.20 99.18,646.74 100.74,646.53 102.30,646.06 103.87,646.57 105.43,645.93 106.99,645.12 108.55,644.68 110.12,644.98 111.68,643.96 113.24,643.70 114.80,643.82 116.36,643.59 117.93,642.81 119.49,642.88 121.05,642.01 122.61,642.29 124.17,641.98 125.74,642.25 127.30,641.74 128.86,640.96 130.42,640.40 131.98,640.61 133.55,640.01 135.11,639.81 136.67,639.17 138.23,639.49 139.79,639.25 141.36,639.31 142.92,639.16 144.48,638.89 146.04,637.98 147.60,637.53 149.17,637.62 150.73,637.75 152.29,636.80 153.85,637.30 155.41,636.45 156.98,636.27 158.54,635.93 160.10,635.93 161.66,636.02 163.22,635.53 164.79,635.24 166.35,635.44 167.91,635.35 169.47,634.90 171.04,634.55 172.60,634.82 174.16,634.26 175.72,633.71 177.28,634.44 178.85,634.04 180.41,633.40 181.97,633.89 183.53,632.82 185.09,633.10 186.66,632.66 188.22,632.54 189.78,631.89 191.34,632.06 192.90,631.59 194.47,631.95 196.03,632.27 197.59,632.21 199.15,631.48 200.71,630.89 202.28,631.09 203.84,630.78 205.40,630.15 206.96,630.38 208.52,629.86 208.52,634.74 206.96,635.30 205.40,635.38 203.84,635.62 202.28,636.43 200.71,635.80 199.15,636.50 197.59,637.13 196.03,637.01 194.47,637.27 192.90,636.99 191.34,637.01 189.78,637.26 188.22,637.95 186.66,637.44 185.09,638.46 183.53,637.79 181.97,638.92 180.41,638.53 178.85,639.40 177.28,639.38 175.72,638.67 174.16,639.62 172.60,640.03 171.04,639.98 169.47,639.96 167.91,640.51 166.35,640.92 164.79,640.47 163.22,640.56 161.66,641.41 160.10,640.96 158.54,641.23 156.98,641.46 155.41,641.39 153.85,642.32 152.29,642.14 150.73,642.88 149.17,642.32 147.60,642.53 146.04,643.01 144.48,643.76 142.92,644.42 141.36,644.59 139.79,644.26 138.23,644.28 136.67,644.27 135.11,644.80 133.55,644.85 131.98,645.69 130.42,645.64 128.86,646.03 127.30,646.95 125.74,647.12 124.17,647.10 122.61,647.23 121.05,647.44 119.49,648.12 117.93,647.94 116.36,648.93 114.80,649.12 113.24,648.58 111.68,648.88 110.12,650.14 108.55,649.73 106.99,650.26 105.43,651.04 103.87,651.81 102.30,651.19 100.74,651.84 99.18,651.85 97.62,653.41 96.06,653.28 94.49,654.71 92.93,654.71 91.37,655.02 89.81,656.16 88.25,656.35 86.68,656.90 85.12,658.96 83.56,658.87 82.00,660.16 80.44,660.31 78.87,661.27 77.31,662.76 75.75,663.13 74.19,664.55 72.63,665.94 71.06,666.41 69.50,667.49 67.94,668.68 66.38,669.71 64.82,671.04 63.25,672.09 61.69,673.50 60.13,674.52 58.57,675.88 57.01,677.09 55.44,678.10 53.88,680.35 52.32,681.37 50.76,682.54" fill="#e2f4fc" stroke="none"/>
<polyline points="50.76,677.52 52.32,676.63 53.88,675.03 55.44,673.26 57.01,672.00 58.57,670.90 60.13,669.62 61.69,668.39 63.25,666.72 64.82,665.61 66.38,664.54 67.94,663.62 69.50,662.28 71.06,661.37 72.63,660.51 74.19,659.84 75.75,657.97 77.31,657.73 78.87,656.31 80.44,655.11 82.00,655.20 83.56,653.58 85.12,653.75 86.68,652.16 88.25,651.50 89.81,651.05 91.37,649.89 92.93,649.30 94.49,649.35 96.06,648.25 97.62,648.20 99.18,646.74 100.74,646.53 102.30,646.06 103.87,646.57 105.43,645.93 106.99,645.12 108.55,644.68 110.12,644.98 111.68,643.96 113.24,643.70 114.80,643.82 116.36,643.59 117.93,642.81 119.49,642.88 121.05,642.01 122.61,642.29 124.17,641.98 125.74,642.25 127.30,641.74 128.86,640.96 130.42,640.40 131.98,640.61 133.55,640.01 135.11,639.81 136.67,639.17 138.23,639.49 139.79,639.25 141.36,639.31 142.92,639.16 144.48,638.89 146.04,637.98 147.60,637.53 149.17,637.62 150.73,637.75 152.29,636.80 153.85,637.30 155.41,636.45 156.98,636.27 158.54,635.93 160.10,635.93 161.66,636.02 163.22,635.53 164.79,635.24 166.35,635.44 167.91,635.35 169.47,634.90 171.04,634.55 172.60,634.82 174.16,634.26 175.72,633.71 177.28,634.44 178.85,634.04 180.41,633.40 181.97,633.89 183.53,632.82 185.09,633.10 186.66,632.66 188.22,632.54 189.78,631.89 191.34,632.06 192.90,631.59 194.47,631.95 196.03,632.27 197.59,632.21 199.15,631.48 200.71,630.89 202.28,631.09 203.84,630.78 205.40,630.15 206.96,630.38 208.52,629.86" fill="none" stroke="#86cbee" stroke-width="0.8" stroke-linejoin="round" stroke-dasharray="1.3 1.1"/>
<polyline points="50.76,682.54 52.32,681.37 53.88,680.35 55.44,678.10 57.01,677.09 58.57,675.88 60.13,674.52 61.69,673.50 63.25,672.09 64.82,671.04 66.38,669.71 67.94,668.68 69.50,667.49 71.06,666.41 72.63,665.94 74.19,664.55 75.75,663.13 77.31,662.76 78.87,661.27 80.44,660.31 82.00,660.16 83.56,658.87 85.12,658.96 86.68,656.90 88.25,656.35 89.81,656.16 91.37,655.02 92.93,654.71 94.49,654.71 96.06,653.28 97.62,653.41 99.18,651.85 100.74,651.84 102.30,651.19 103.87,651.81 105.43,651.04 106.99,650.26 108.55,649.73 110.12,650.14 111.68,648.88 113.24,648.58 114.80,649.12 116.36,648.93 117.93,647.94 119.49,648.12 121.05,647.44 122.61,647.23 124.17,647.10 125.74,647.12 127.30,646.95 128.86,646.03 130.42,645.64 131.98,645.69 133.55,644.85 135.11,644.80 136.67,644.27 138.23,644.28 139.79,644.26 141.36,644.59 142.92,644.42 144.48,643.76 146.04,643.01 147.60,642.53 149.17,642.32 150.73,642.88 152.29,642.14 153.85,642.32 155.41,641.39 156.98,641.46 158.54,641.23 160.10,640.96 161.66,641.41 163.22,640.56 164.79,640.47 166.35,640.92 167.91,640.51 169.47,639.96 171.04,639.98 172.60,640.03 174.16,639.62 175.72,638.67 177.28,639.38 178.85,639.40 180.41,638.53 181.97,638.92 183.53,637.79 185.09,638.46 186.66,637.44 188.22,637.95 189.78,637.26 191.34,637.01 192.90,636.99 194.47,637.27 196.03,637.01 197.59,637.13 199.15,636.50 200.71,635.80 202.28,636.43 203.84,635.62 205.40,635.38 206.96,635.30 208.52,634.74" fill="none" stroke="#86cbee" stroke-width="0.8" stroke-linejoin="round" stroke-dasharray="1.3 1.1"/>
<polyline points="50.76,680.08 52.32,678.95 53.88,677.72 55.44,675.65 57.01,674.65 58.57,673.20 60.13,672.05 61.69,670.97 63.25,669.37 64.82,668.37 66.38,667.04 67.94,666.05 69.50,664.75 71.06,664.05 72.63,663.22 74.19,662.23 75.75,660.64 77.31,660.21 78.87,658.72 80.44,657.79 82.00,657.63 83.56,656.15 85.12,656.18 86.68,654.59 88.25,653.88 89.81,653.78 91.37,652.59 92.93,651.98 94.49,651.99 96.06,650.82 97.62,650.77 99.18,649.36 100.74,649.05 102.30,648.41 103.87,649.01 105.43,648.39 106.99,647.74 108.55,647.40 110.12,647.51 111.68,646.46 113.24,646.18 114.80,646.41 116.36,646.24 117.93,645.38 119.49,645.32 121.05,644.73 122.61,644.61 124.17,644.44 125.74,644.55 127.30,644.17 128.86,643.57 130.42,643.03 131.98,643.07 133.55,642.48 135.11,642.42 136.67,641.82 138.23,641.81 139.79,641.90 141.36,641.84 142.92,641.67 144.48,641.45 146.04,640.37 147.60,640.11 149.17,639.99 150.73,640.40 152.29,639.59 153.85,639.92 155.41,638.95 156.98,638.99 158.54,638.69 160.10,638.64 161.66,638.64 163.22,638.00 164.79,637.69 166.35,638.23 167.91,637.83 169.47,637.34 171.04,637.19 172.60,637.27 174.16,637.04 175.72,636.31 177.28,636.82 178.85,636.69 180.41,636.01 181.97,636.23 183.53,635.40 185.09,635.79 186.66,634.98 188.22,635.34 189.78,634.63 191.34,634.57 192.90,634.39 194.47,634.72 196.03,634.58 197.59,634.52 199.15,634.09 200.71,633.32 202.28,633.66 203.84,633.21 205.40,632.60 206.96,632.74 208.52,632.29" fill="none" stroke="#72c0e8" stroke-width="1.0" stroke-linejoin="round"/>
<polyline points="50.76,672.57 52.32,670.84 53.88,670.72 55.44,669.22 57.01,667.92 58.57,666.48 60.13,665.93 61.69,664.86 63.25,664.27 64.82,662.89 66.38,661.75 67.94,660.57 69.50,659.55 71.06,658.09 72.63,657.51 74.19,656.99 75.75,654.86 77.31,653.79 78.87,653.54 80.44,652.73 82.00,651.54 83.56,650.95 85.12,649.63 86.68,649.18 88.25,648.56 89.81,647.49 91.37,646.88 92.93,646.69 94.49,645.94 96.06,644.44 97.62,643.98 99.18,643.67 100.74,642.50 102.30,642.33 103.87,642.23 105.43,640.86 106.99,640.15 108.55,639.30 110.12,639.39 111.68,639.74 113.24,638.66 114.80,638.35 116.36,637.86 117.93,637.96 119.49,637.73 121.05,636.89 122.61,637.53 124.17,636.18 125.74,636.20 127.30,636.98 128.86,635.85 130.42,636.16 131.98,636.11 133.55,635.20 135.11,634.57 136.67,634.78 138.23,634.91 139.79,634.61 141.36,634.00 142.92,633.44 144.48,633.42 146.04,634.10 147.60,632.98 149.17,632.91 150.73,633.73 152.29,633.11 153.85,632.94 155.41,632.51 156.98,632.99 158.54,632.02 160.10,632.56 161.66,631.68 163.22,631.87 164.79,632.35 166.35,631.98 167.91,631.14 169.47,630.66 171.04,631.59 172.60,630.48 174.16,630.29 175.72,630.15 177.28,630.23 178.85,630.37 180.41,629.73 181.97,630.03 183.53,629.54 185.09,629.27 186.66,629.17 188.22,628.73 189.78,628.95 191.34,628.44 192.90,628.95 194.47,628.71 196.03,627.85 197.59,628.36 199.15,627.80 200.71,627.58 202.28,627.59 203.84,627.08 205.40,626.53 206.96,626.78 208.52,626.43" fill="none" stroke="#5673a8" stroke-width="0.8" stroke-linejoin="round" stroke-dasharray="1.3 1.1"/>
<polyline points="50.76,676.62 52.32,675.08 53.88,674.61 55.44,673.19 57.01,671.98 58.57,670.80 60.13,670.26 61.69,669.05 63.25,668.58 64.82,666.93 66.38,666.16 67.94,664.34 69.50,663.61 71.06,662.63 72.63,661.83 74.19,660.98 75.75,658.93 77.31,658.27 78.87,657.39 80.44,656.68 82.00,655.79 83.56,654.57 85.12,653.95 86.68,653.10 88.25,652.54 89.81,651.53 91.37,651.30 92.93,650.70 94.49,650.37 96.06,648.79 97.62,648.18 99.18,648.02 100.74,646.74 102.30,646.45 103.87,646.07 105.43,645.08 106.99,644.57 108.55,643.72 110.12,643.62 111.68,643.50 113.24,642.73 114.80,642.22 116.36,641.97 117.93,641.90 119.49,641.35 121.05,640.94 122.61,641.29 124.17,640.26 125.74,640.22 127.30,640.92 128.86,639.93 130.42,640.10 131.98,640.05 133.55,639.35 135.11,638.46 136.67,638.92 138.23,639.34 139.79,638.44 141.36,638.22 142.92,637.79 144.48,637.61 146.04,638.09 147.60,636.94 149.17,637.40 150.73,637.76 152.29,637.19 153.85,637.36 155.41,636.32 156.98,636.67 158.54,636.07 160.10,636.48 161.66,636.15 163.22,636.05 164.79,636.07 166.35,636.34 167.91,635.15 169.47,635.08 171.04,635.65 172.60,635.04 174.16,634.18 175.72,634.39 177.28,634.20 178.85,634.68 180.41,633.84 181.97,633.90 183.53,633.28 185.09,633.70 186.66,633.24 188.22,632.86 189.78,633.07 191.34,632.77 192.90,633.08 194.47,633.00 196.03,631.96 197.59,632.31 199.15,631.65 200.71,631.40 202.28,631.51 203.84,631.04 205.40,630.32 206.96,630.56 208.52,630.61" fill="none" stroke="#5673a8" stroke-width="0.8" stroke-linejoin="round" stroke-dasharray="1.3 1.1"/>
<polyline points="50.76,674.82 52.32,673.06 53.88,672.53 55.44,671.12 57.01,669.84 58.57,668.64 60.13,667.97 61.69,666.94 63.25,666.44 64.82,664.98 66.38,663.97 67.94,662.41 69.50,661.65 71.06,660.36 72.63,659.62 74.19,658.83 75.75,657.09 77.31,656.07 78.87,655.48 80.44,654.75 82.00,653.55 83.56,652.79 85.12,651.73 86.68,651.13 88.25,650.45 89.81,649.60 91.37,649.10 92.93,648.79 94.49,648.12 96.06,646.58 97.62,646.03 99.18,645.94 100.74,644.68 102.30,644.41 103.87,644.19 105.43,642.78 106.99,642.41 108.55,641.45 110.12,641.36 111.68,641.60 113.24,640.70 114.80,640.17 116.36,639.70 117.93,639.97 119.49,639.52 121.05,639.10 122.61,639.40 124.17,638.45 125.74,638.27 127.30,638.78 128.86,637.98 130.42,637.96 131.98,637.91 133.55,637.24 135.11,636.62 136.67,636.85 138.23,637.09 139.79,636.50 141.36,636.01 142.92,635.63 144.48,635.67 146.04,636.16 147.60,635.02 149.17,635.19 150.73,635.52 152.29,635.27 153.85,635.14 155.41,634.41 156.98,634.79 158.54,633.98 160.10,634.55 161.66,633.97 163.22,633.92 164.79,634.19 166.35,634.09 167.91,633.02 169.47,632.81 171.04,633.53 172.60,632.77 174.16,632.37 175.72,632.30 177.28,632.14 178.85,632.52 180.41,631.95 181.97,632.00 183.53,631.37 185.09,631.43 186.66,631.11 188.22,630.92 189.78,631.22 191.34,630.71 192.90,631.16 194.47,630.87 196.03,629.94 197.59,630.31 199.15,629.75 200.71,629.58 202.28,629.63 203.84,629.02 205.40,628.42 206.96,628.74 208.52,628.44" fill="none" stroke="#4a679c" stroke-width="1.0" stroke-linejoin="round"/>
<polyline points="51.50,706.20 55.50,704.10 59.50,706.70 63.00,705.60 65.30,698.00 67.00,688.80 67.80,685.20 68.80,690.00 70.50,705.00 72.20,701.50 74.00,697.00 75.70,699.20 77.40,706.20 80.30,707.90 83.80,705.60 86.10,699.20 87.80,697.50 90.10,702.10 92.40,706.70 95.30,707.90 98.80,705.60 101.10,702.70 102.80,695.80 104.50,689.40 106.80,690.60 108.00,692.30 110.40,690.00 113.50,684.60 115.80,689.20 118.00,690.80 120.40,680.00 122.70,669.20 125.00,672.30 127.30,677.00 129.60,684.60 131.90,693.00 134.20,686.20 136.50,677.00 138.80,673.80 140.40,675.40 141.90,661.50 143.50,646.20 145.00,633.80 146.50,627.70 148.10,621.50 149.60,620.00 151.20,615.40 152.70,611.50 154.20,613.80 155.80,623.00 157.30,630.00 158.80,627.70 160.40,632.30 162.70,625.40 164.20,635.40 166.10,650.80 167.00,653.80 168.30,640.00 170.30,626.70 172.40,616.00 173.70,606.50" fill="none" stroke="#a3a3a3" stroke-width="0.85" stroke-linejoin="round"/>
<polyline points="184.40,606.50 185.70,613.40 187.10,624.00 188.40,637.40 189.70,653.50 191.10,664.20 192.40,673.50 193.70,679.50 195.70,680.20 197.10,676.20 199.10,672.20 201.10,668.20 203.10,664.20 204.40,656.10 205.80,640.10 207.10,620.00 207.80,606.50" fill="none" stroke="#a3a3a3" stroke-width="0.85" stroke-linejoin="round"/>
<line x1="50.75" y1="692.60" x2="209.70" y2="692.60" stroke="#111" stroke-width="1.6" stroke-dasharray="2.1 2.5"/>
<line x1="52.90" y1="604.10" x2="64.40" y2="604.10" stroke="#34589a" stroke-width="1.0"/>
<line x1="52.90" y1="614.70" x2="64.40" y2="614.70" stroke="#5ab7e6" stroke-width="1.0"/>
<line x1="52.90" y1="626.40" x2="64.40" y2="626.40" stroke="#9a9a9a" stroke-width="1.0"/>
<text x="68.30" y="607.00" font-size="8.5" fill="#383838"  >IgG</text>
<text x="68.30" y="617.50" font-size="8.5" fill="#383838"  >αLy6G</text>
<text x="68.80" y="628.60" font-size="6.7" fill="#383838" textLength="69.30" lengthAdjust="spacingAndGlyphs" ><tspan font-style="italic">P</tspan> value (αLy6G vs IgG)</text>
<text x="269.50" y="587.00" font-size="12" fill="#111" font-weight="bold" >H</text>
<line x1="307.15" y1="604.45" x2="307.15" y2="709.90" stroke="#231f20" stroke-width="1.3"/>
<line x1="466.10" y1="604.45" x2="466.10" y2="709.90" stroke="#231f20" stroke-width="1.3"/>
<line x1="306.55" y1="709.30" x2="466.70" y2="709.30" stroke="#231f20" stroke-width="1.3"/>
<line x1="303.75" y1="709.30" x2="307.15" y2="709.30" stroke="#231f20" stroke-width="1"/>
<text x="300.75" y="712.20" font-size="8.2" fill="#383838" text-anchor="end" >0</text>
<line x1="303.75" y1="683.79" x2="307.15" y2="683.79" stroke="#231f20" stroke-width="1"/>
<text x="300.75" y="686.69" font-size="8.2" fill="#383838" text-anchor="end" >10</text>
<line x1="303.75" y1="658.27" x2="307.15" y2="658.27" stroke="#231f20" stroke-width="1"/>
<text x="300.75" y="661.17" font-size="8.2" fill="#383838" text-anchor="end" >20</text>
<line x1="303.75" y1="632.76" x2="307.15" y2="632.76" stroke="#231f20" stroke-width="1"/>
<text x="300.75" y="635.66" font-size="8.2" fill="#383838" text-anchor="end" >30</text>
<line x1="303.75" y1="607.25" x2="307.15" y2="607.25" stroke="#231f20" stroke-width="1"/>
<text x="300.75" y="610.15" font-size="8.2" fill="#383838" text-anchor="end" >40</text>
<line x1="466.10" y1="709.30" x2="468.60" y2="709.30" stroke="#231f20" stroke-width="1"/>
<text x="472.20" y="712.30" font-size="8.6" fill="#383838" textLength="17.40" lengthAdjust="spacingAndGlyphs" >0.00</text>
<line x1="466.10" y1="692.29" x2="468.60" y2="692.29" stroke="#231f20" stroke-width="1"/>
<text x="472.20" y="695.29" font-size="8.6" fill="#383838" textLength="17.40" lengthAdjust="spacingAndGlyphs" >0.05</text>
<line x1="466.10" y1="675.28" x2="468.60" y2="675.28" stroke="#231f20" stroke-width="1"/>
<text x="472.20" y="678.28" font-size="8.6" fill="#383838" textLength="17.40" lengthAdjust="spacingAndGlyphs" >0.10</text>
<line x1="466.10" y1="658.27" x2="468.60" y2="658.27" stroke="#231f20" stroke-width="1"/>
<text x="472.20" y="661.27" font-size="8.6" fill="#383838" textLength="17.40" lengthAdjust="spacingAndGlyphs" >0.15</text>
<line x1="466.10" y1="641.27" x2="468.60" y2="641.27" stroke="#231f20" stroke-width="1"/>
<text x="472.20" y="644.27" font-size="8.6" fill="#383838" textLength="17.40" lengthAdjust="spacingAndGlyphs" >0.20</text>
<line x1="466.10" y1="624.26" x2="468.60" y2="624.26" stroke="#231f20" stroke-width="1"/>
<text x="472.20" y="627.26" font-size="8.6" fill="#383838" textLength="17.40" lengthAdjust="spacingAndGlyphs" >0.25</text>
<line x1="466.10" y1="607.25" x2="468.60" y2="607.25" stroke="#231f20" stroke-width="1"/>
<text x="472.20" y="610.25" font-size="8.6" fill="#383838" textLength="17.40" lengthAdjust="spacingAndGlyphs" >0.30</text>
<line x1="320.10" y1="709.30" x2="320.10" y2="711.90" stroke="#231f20" stroke-width="1"/>
<text x="320.10" y="723.00" font-size="9" fill="#383838" text-anchor="middle" >20</text>
<line x1="364.73" y1="709.30" x2="364.73" y2="711.90" stroke="#231f20" stroke-width="1"/>
<text x="364.73" y="723.00" font-size="9" fill="#383838" text-anchor="middle" >30</text>
<line x1="409.36" y1="709.30" x2="409.36" y2="711.90" stroke="#231f20" stroke-width="1"/>
<text x="409.36" y="723.00" font-size="9" fill="#383838" text-anchor="middle" >40</text>
<line x1="453.99" y1="709.30" x2="453.99" y2="711.90" stroke="#231f20" stroke-width="1"/>
<text x="453.99" y="723.00" font-size="9" fill="#383838" text-anchor="middle" >50</text>
<text x="312.70" y="738.10" font-size="10.2" fill="#383838" textLength="149.30" lengthAdjust="spacingAndGlyphs" >Distance from knee joint (% bone length)</text>
<text transform="translate(272.80,657.48) rotate(-90)" x="0" y="0" font-size="9" fill="#383838" text-anchor="middle" textLength="81.50" lengthAdjust="spacingAndGlyphs" >High density bone area</text>
<text transform="translate(284.00,657.48) rotate(-90)" x="0" y="0" font-size="9" fill="#383838" text-anchor="middle" textLength="83.60" lengthAdjust="spacingAndGlyphs" >(% cross-sectional area)</text>
<text transform="translate(495.30,658.08) rotate(90)" x="0" y="0" font-size="8.6" fill="#383838" text-anchor="middle" textLength="84.00" lengthAdjust="spacingAndGlyphs" ><tspan font-style="italic">P</tspan> value (αLy6G vs IgG)</text>
<text x="346.30" y="587.00" font-size="11" fill="#383838" font-style="italic" textLength="74.60" lengthAdjust="spacingAndGlyphs" >Dmp1Cre.Socs3</text>
<text x="421.50" y="582.50" font-size="6.3" fill="#383838" font-style="italic" textLength="5.40" lengthAdjust="spacingAndGlyphs" >f/f</text>
<polygon points="307.16,695.60 308.72,693.74 310.28,692.50 311.84,690.45 313.41,689.67 314.97,687.30 316.53,685.29 318.09,684.29 319.65,681.85 321.22,680.12 322.78,678.45 324.34,676.14 325.90,674.17 327.46,672.38 329.03,669.60 330.59,667.99 332.15,665.39 333.71,663.16 335.27,661.97 336.84,659.30 338.40,657.53 339.96,655.16 341.52,653.95 343.08,651.55 344.65,649.72 346.21,646.89 347.77,644.86 349.33,642.58 350.89,642.77 352.46,642.36 354.02,642.63 355.58,641.66 357.14,641.06 358.70,640.09 360.27,639.15 361.83,638.54 363.39,637.55 364.95,636.67 366.52,636.40 368.08,636.35 369.64,634.61 371.20,634.54 372.76,634.54 374.33,634.05 375.89,633.69 377.45,633.02 379.01,631.87 380.57,632.41 382.14,631.23 383.70,631.32 385.26,631.25 386.82,631.24 388.38,631.10 389.95,631.77 391.51,630.89 393.07,631.22 394.63,630.84 396.19,631.24 397.76,630.70 399.32,630.31 400.88,630.49 402.44,630.38 404.00,630.19 405.57,630.13 407.13,629.71 408.69,629.15 410.25,629.02 411.81,628.87 413.38,629.55 414.94,629.27 416.50,629.04 418.06,628.63 419.62,628.41 421.19,628.46 422.75,627.96 424.31,628.67 425.87,627.89 427.44,627.69 429.00,628.00 430.56,627.30 432.12,627.72 433.68,627.20 435.25,626.86 436.81,626.71 438.37,626.33 439.93,626.12 441.49,625.56 443.06,626.00 444.62,625.68 446.18,626.01 447.74,625.40 449.30,625.23 450.87,624.62 452.43,625.07 453.99,624.15 455.55,623.24 457.11,624.12 458.68,623.17 460.24,622.34 461.80,622.03 463.36,622.21 464.92,621.94 464.92,635.61 463.36,635.99 461.80,635.73 460.24,636.54 458.68,636.83 457.11,637.54 455.55,637.08 453.99,637.84 452.43,638.88 450.87,638.57 449.30,639.13 447.74,638.86 446.18,639.68 444.62,639.69 443.06,639.99 441.49,639.52 439.93,640.31 438.37,639.98 436.81,640.33 435.25,640.66 433.68,641.00 432.12,641.40 430.56,640.85 429.00,641.81 427.44,641.48 425.87,641.77 424.31,642.31 422.75,641.75 421.19,642.17 419.62,642.22 418.06,642.31 416.50,643.24 414.94,642.98 413.38,643.27 411.81,642.45 410.25,642.62 408.69,642.95 407.13,643.39 405.57,643.82 404.00,643.95 402.44,644.22 400.88,644.02 399.32,644.42 397.76,644.71 396.19,644.59 394.63,644.50 393.07,645.20 391.51,644.62 389.95,645.57 388.38,645.23 386.82,644.81 385.26,645.17 383.70,645.15 382.14,644.93 380.57,646.28 379.01,646.01 377.45,647.06 375.89,647.10 374.33,647.72 372.76,648.78 371.20,648.32 369.64,648.55 368.08,649.85 366.52,650.27 364.95,650.33 363.39,651.56 361.83,652.20 360.27,652.88 358.70,653.85 357.14,654.83 355.58,655.16 354.02,656.51 352.46,656.42 350.89,656.97 349.33,656.32 347.77,658.63 346.21,660.55 344.65,663.55 343.08,665.34 341.52,667.60 339.96,669.05 338.40,670.95 336.84,673.11 335.27,675.59 333.71,677.09 332.15,678.70 330.59,680.83 329.03,681.68 327.46,684.12 325.90,685.21 324.34,686.81 322.78,688.53 321.22,689.48 319.65,690.91 318.09,692.61 316.53,693.59 314.97,694.97 313.41,696.45 311.84,696.89 310.28,698.50 308.72,699.25 307.16,700.48" fill="#e8f6fd" stroke="none"/>
<polyline points="307.16,695.60 308.72,693.74 310.28,692.50 311.84,690.45 313.41,689.67 314.97,687.30 316.53,685.29 318.09,684.29 319.65,681.85 321.22,680.12 322.78,678.45 324.34,676.14 325.90,674.17 327.46,672.38 329.03,669.60 330.59,667.99 332.15,665.39 333.71,663.16 335.27,661.97 336.84,659.30 338.40,657.53 339.96,655.16 341.52,653.95 343.08,651.55 344.65,649.72 346.21,646.89 347.77,644.86 349.33,642.58 350.89,642.77 352.46,642.36 354.02,642.63 355.58,641.66 357.14,641.06 358.70,640.09 360.27,639.15 361.83,638.54 363.39,637.55 364.95,636.67 366.52,636.40 368.08,636.35 369.64,634.61 371.20,634.54 372.76,634.54 374.33,634.05 375.89,633.69 377.45,633.02 379.01,631.87 380.57,632.41 382.14,631.23 383.70,631.32 385.26,631.25 386.82,631.24 388.38,631.10 389.95,631.77 391.51,630.89 393.07,631.22 394.63,630.84 396.19,631.24 397.76,630.70 399.32,630.31 400.88,630.49 402.44,630.38 404.00,630.19 405.57,630.13 407.13,629.71 408.69,629.15 410.25,629.02 411.81,628.87 413.38,629.55 414.94,629.27 416.50,629.04 418.06,628.63 419.62,628.41 421.19,628.46 422.75,627.96 424.31,628.67 425.87,627.89 427.44,627.69 429.00,628.00 430.56,627.30 432.12,627.72 433.68,627.20 435.25,626.86 436.81,626.71 438.37,626.33 439.93,626.12 441.49,625.56 443.06,626.00 444.62,625.68 446.18,626.01 447.74,625.40 449.30,625.23 450.87,624.62 452.43,625.07 453.99,624.15 455.55,623.24 457.11,624.12 458.68,623.17 460.24,622.34 461.80,622.03 463.36,622.21 464.92,621.94" fill="none" stroke="#86cbee" stroke-width="0.8" stroke-linejoin="round" stroke-dasharray="1.3 1.1"/>
<polyline points="307.16,700.48 308.72,699.25 310.28,698.50 311.84,696.89 313.41,696.45 314.97,694.97 316.53,693.59 318.09,692.61 319.65,690.91 321.22,689.48 322.78,688.53 324.34,686.81 325.90,685.21 327.46,684.12 329.03,681.68 330.59,680.83 332.15,678.70 333.71,677.09 335.27,675.59 336.84,673.11 338.40,670.95 339.96,669.05 341.52,667.60 343.08,665.34 344.65,663.55 346.21,660.55 347.77,658.63 349.33,656.32 350.89,656.97 352.46,656.42 354.02,656.51 355.58,655.16 357.14,654.83 358.70,653.85 360.27,652.88 361.83,652.20 363.39,651.56 364.95,650.33 366.52,650.27 368.08,649.85 369.64,648.55 371.20,648.32 372.76,648.78 374.33,647.72 375.89,647.10 377.45,647.06 379.01,646.01 380.57,646.28 382.14,644.93 383.70,645.15 385.26,645.17 386.82,644.81 388.38,645.23 389.95,645.57 391.51,644.62 393.07,645.20 394.63,644.50 396.19,644.59 397.76,644.71 399.32,644.42 400.88,644.02 402.44,644.22 404.00,643.95 405.57,643.82 407.13,643.39 408.69,642.95 410.25,642.62 411.81,642.45 413.38,643.27 414.94,642.98 416.50,643.24 418.06,642.31 419.62,642.22 421.19,642.17 422.75,641.75 424.31,642.31 425.87,641.77 427.44,641.48 429.00,641.81 430.56,640.85 432.12,641.40 433.68,641.00 435.25,640.66 436.81,640.33 438.37,639.98 439.93,640.31 441.49,639.52 443.06,639.99 444.62,639.69 446.18,639.68 447.74,638.86 449.30,639.13 450.87,638.57 452.43,638.88 453.99,637.84 455.55,637.08 457.11,637.54 458.68,636.83 460.24,636.54 461.80,635.73 463.36,635.99 464.92,635.61" fill="none" stroke="#86cbee" stroke-width="0.8" stroke-linejoin="round" stroke-dasharray="1.3 1.1"/>
<polyline points="307.16,698.08 308.72,696.55 310.28,695.63 311.84,693.70 313.41,692.96 314.97,691.25 316.53,689.48 318.09,688.57 319.65,686.34 321.22,684.94 322.78,683.48 324.34,681.61 325.90,679.87 327.46,678.32 329.03,675.76 330.59,674.41 332.15,671.86 333.71,669.94 335.27,668.70 336.84,666.38 338.40,664.25 339.96,662.01 341.52,660.76 343.08,658.41 344.65,656.50 346.21,653.90 347.77,651.58 349.33,649.58 350.89,649.91 352.46,649.34 354.02,649.38 355.58,648.34 357.14,648.09 358.70,646.98 360.27,646.05 361.83,645.37 363.39,644.52 364.95,643.69 366.52,643.29 368.08,643.08 369.64,641.63 371.20,641.66 372.76,641.68 374.33,640.80 375.89,640.38 377.45,640.15 379.01,638.93 380.57,639.36 382.14,638.15 383.70,638.10 385.26,638.22 386.82,638.11 388.38,638.09 389.95,638.51 391.51,637.93 393.07,638.12 394.63,637.86 396.19,637.89 397.76,637.72 399.32,637.30 400.88,637.15 402.44,637.24 404.00,637.12 405.57,636.92 407.13,636.40 408.69,636.06 410.25,635.96 411.81,635.81 413.38,636.50 414.94,635.96 416.50,636.16 418.06,635.51 419.62,635.38 421.19,635.26 422.75,634.82 424.31,635.33 425.87,634.67 427.44,634.68 429.00,634.92 430.56,633.98 432.12,634.72 433.68,634.10 435.25,633.83 436.81,633.57 438.37,632.98 439.93,633.22 441.49,632.68 443.06,633.09 444.62,632.70 446.18,632.84 447.74,632.14 449.30,632.16 450.87,631.50 452.43,631.83 453.99,631.12 455.55,630.25 457.11,630.86 458.68,629.84 460.24,629.47 461.80,629.06 463.36,628.88 464.92,628.58" fill="none" stroke="#72c0e8" stroke-width="1.0" stroke-linejoin="round"/>
<polyline points="307.16,693.84 308.72,692.63 310.28,691.58 311.84,689.62 313.41,687.76 314.97,686.61 316.53,684.62 318.09,682.69 319.65,680.47 321.22,679.34 322.78,677.23 324.34,674.39 325.90,672.59 327.46,670.76 329.03,667.55 330.59,665.40 332.15,662.36 333.71,659.33 335.27,656.70 336.84,653.61 338.40,649.65 339.96,645.83 341.52,643.29 343.08,640.30 344.65,637.47 346.21,636.76 347.77,635.42 349.33,634.18 350.89,632.45 352.46,632.27 354.02,630.83 355.58,629.08 357.14,626.82 358.70,624.75 360.27,623.46 361.83,622.29 363.39,622.80 364.95,622.40 366.52,621.63 368.08,621.63 369.64,621.67 371.20,621.46 372.76,620.73 374.33,620.67 375.89,621.24 377.45,621.24 379.01,621.02 380.57,621.22 382.14,621.34 383.70,621.08 385.26,621.05 386.82,620.61 388.38,621.10 389.95,620.67 391.51,620.62 393.07,620.23 394.63,620.46 396.19,620.61 397.76,620.06 399.32,620.74 400.88,621.19 402.44,621.32 404.00,621.05 405.57,621.61 407.13,622.31 408.69,622.99 410.25,623.01 411.81,622.49 413.38,622.93 414.94,623.01 416.50,623.12 418.06,623.47 419.62,623.65 421.19,623.15 422.75,623.38 424.31,623.63 425.87,624.17 427.44,623.54 429.00,623.90 430.56,624.73 432.12,624.51 433.68,624.17 435.25,624.61 436.81,624.93 438.37,625.23 439.93,624.34 441.49,624.78 443.06,624.75 444.62,624.15 446.18,624.31 447.74,624.39 449.30,624.76 450.87,624.01 452.43,624.71 453.99,623.91 455.55,623.66 457.11,623.27 458.68,622.99 460.24,622.87 461.80,623.01 463.36,621.99 464.92,621.38" fill="none" stroke="#5673a8" stroke-width="0.8" stroke-linejoin="round" stroke-dasharray="1.3 1.1"/>
<polyline points="307.16,698.23 308.72,696.90 310.28,695.96 311.84,694.68 313.41,692.95 314.97,692.28 316.53,690.25 318.09,689.12 319.65,687.13 321.22,686.20 322.78,684.20 324.34,681.74 325.90,680.01 327.46,678.71 329.03,675.45 330.59,673.24 332.15,670.20 333.71,667.35 335.27,664.23 336.84,661.23 338.40,657.18 339.96,653.32 341.52,650.84 343.08,647.65 344.65,644.92 346.21,644.76 347.77,642.95 349.33,641.83 350.89,640.51 352.46,639.94 354.02,638.38 355.58,636.73 357.14,634.25 358.70,632.24 360.27,630.94 361.83,630.08 363.39,630.26 364.95,630.29 366.52,629.09 368.08,629.30 369.64,629.00 371.20,629.22 372.76,628.44 374.33,628.49 375.89,629.29 377.45,628.75 379.01,628.92 380.57,628.92 382.14,629.03 383.70,628.56 385.26,628.98 386.82,627.99 388.38,628.79 389.95,628.27 391.51,628.18 393.07,628.27 394.63,628.09 396.19,627.94 397.76,627.67 399.32,628.38 400.88,628.88 402.44,628.82 404.00,628.96 405.57,629.66 407.13,629.79 408.69,630.49 410.25,630.85 411.81,630.24 413.38,630.64 414.94,630.65 416.50,630.77 418.06,631.09 419.62,631.04 421.19,630.65 422.75,631.03 424.31,631.16 425.87,631.94 427.44,631.31 429.00,631.60 430.56,632.16 432.12,632.43 433.68,631.80 435.25,632.49 436.81,632.29 438.37,632.94 439.93,631.91 441.49,632.45 443.06,632.15 444.62,632.00 446.18,631.93 447.74,632.02 449.30,632.10 450.87,631.88 452.43,632.21 453.99,631.56 455.55,631.37 457.11,630.87 458.68,630.56 460.24,630.58 461.80,630.53 463.36,629.65 464.92,629.14" fill="none" stroke="#5673a8" stroke-width="0.8" stroke-linejoin="round" stroke-dasharray="1.3 1.1"/>
<polyline points="307.16,696.17 308.72,694.63 310.28,693.80 311.84,692.28 313.41,690.58 314.97,689.39 316.53,687.56 318.09,685.88 319.65,683.87 321.22,682.82 322.78,680.81 324.34,677.94 325.90,676.18 327.46,674.66 329.03,671.59 330.59,669.36 332.15,666.36 333.71,663.31 335.27,660.48 336.84,657.52 338.40,653.51 339.96,649.73 341.52,646.99 343.08,643.99 344.65,641.22 346.21,640.76 347.77,639.14 349.33,637.93 350.89,636.52 352.46,636.06 354.02,634.74 355.58,632.97 357.14,630.47 358.70,628.61 360.27,627.33 361.83,626.19 363.39,626.60 364.95,626.29 366.52,625.28 368.08,625.63 369.64,625.33 371.20,625.33 372.76,624.68 374.33,624.53 375.89,625.31 377.45,624.88 379.01,624.96 380.57,625.03 382.14,625.12 383.70,624.91 385.26,625.09 386.82,624.22 388.38,624.90 389.95,624.49 391.51,624.31 393.07,624.23 394.63,624.37 396.19,624.32 397.76,623.90 399.32,624.68 400.88,624.83 402.44,625.06 404.00,624.93 405.57,625.58 407.13,625.94 408.69,626.58 410.25,626.80 411.81,626.37 413.38,626.92 414.94,626.79 416.50,627.13 418.06,627.17 419.62,627.40 421.19,626.79 422.75,627.21 424.31,627.47 425.87,627.86 427.44,627.37 429.00,627.78 430.56,628.34 432.12,628.42 433.68,627.75 435.25,628.51 436.81,628.55 438.37,628.99 439.93,628.29 441.49,628.85 443.06,628.45 444.62,628.21 446.18,628.32 447.74,628.40 449.30,628.44 450.87,627.92 452.43,628.29 453.99,627.84 455.55,627.29 457.11,626.95 458.68,626.84 460.24,626.54 461.80,626.62 463.36,625.58 464.92,625.10" fill="none" stroke="#4a679c" stroke-width="1.0" stroke-linejoin="round"/>
<polyline points="333.40,606.50 334.00,615.00 334.80,640.00 335.80,650.00 338.00,657.00 340.00,661.00 341.90,665.80 343.80,674.70 345.40,683.00 347.60,674.70 349.50,664.60 351.00,669.70 352.70,683.60 353.90,692.50 355.80,700.20 359.70,704.60 362.20,703.30 365.00,700.20 366.20,702.70 368.50,704.20 370.00,702.70 372.20,704.20 375.20,702.00 378.20,699.00 380.50,696.70 382.70,699.70 385.00,702.70 388.00,705.00 392.50,706.70 395.00,706.40 400.00,705.50 405.00,702.00 410.00,703.80 413.00,697.00 418.00,686.50 422.00,677.90 425.00,658.80 428.00,644.00 431.00,655.40 434.00,669.20 437.00,671.00 440.00,660.50 443.00,657.00 446.00,645.00 448.00,634.60 450.00,618.20 452.00,631.00 454.00,653.60 457.00,664.00 460.00,667.50 463.00,668.00 465.00,670.00" fill="none" stroke="#a3a3a3" stroke-width="0.85" stroke-linejoin="round"/>
<line x1="307.15" y1="692.60" x2="466.10" y2="692.60" stroke="#111" stroke-width="1.6" stroke-dasharray="2.1 2.5"/>
<line x1="380.00" y1="593.80" x2="390.00" y2="593.80" stroke="#34589a" stroke-width="1.0"/>
<line x1="380.00" y1="604.50" x2="390.00" y2="604.50" stroke="#5ab7e6" stroke-width="1.0"/>
<line x1="380.00" y1="613.80" x2="390.00" y2="613.80" stroke="#9a9a9a" stroke-width="1.0"/>
<text x="393.80" y="596.70" font-size="8.5" fill="#383838"  >IgG</text>
<text x="393.80" y="607.40" font-size="8.5" fill="#383838"  >αLy6G</text>
<text x="393.80" y="615.90" font-size="6.7" fill="#383838" textLength="68.70" lengthAdjust="spacingAndGlyphs" ><tspan font-style="italic">P</tspan> value (αLy6G vs IgG)</text>
</svg>
</body></html>
